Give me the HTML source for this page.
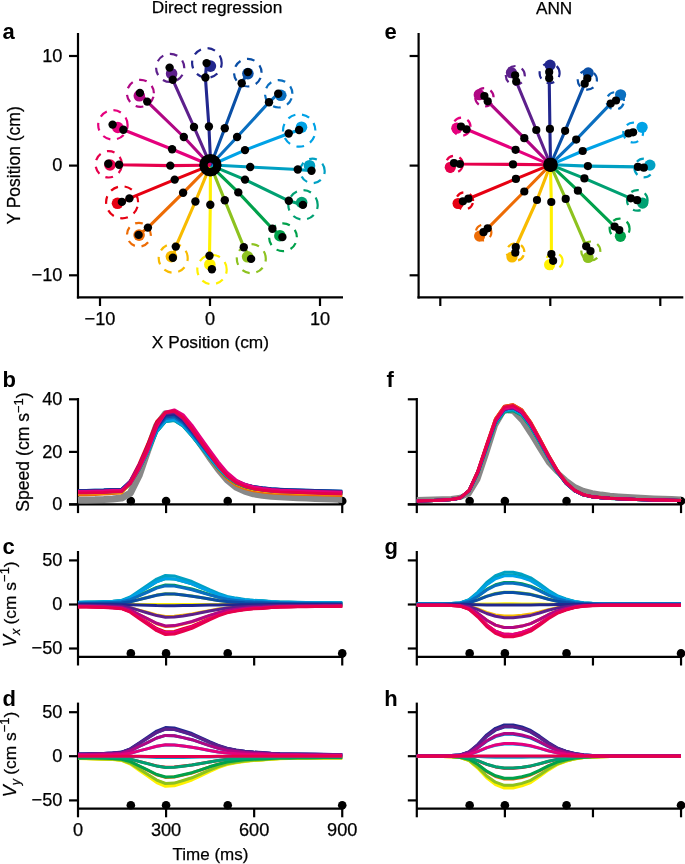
<!DOCTYPE html>
<html><head><meta charset="utf-8"><style>
html,body{margin:0;padding:0;background:#fff;}
svg{display:block;will-change:transform;}
text{font-family:"Liberation Sans",sans-serif;fill:#000;}
</style></head><body>
<svg width="685" height="864" viewBox="0 0 685 864">
<rect width="685" height="864" fill="#fff"/>
<text x="217.00" y="12.80" font-size="17.3" text-anchor="middle" stroke="#000" stroke-width="0.25">Direct regression</text>
<text x="554.10" y="13.80" font-size="17.2" text-anchor="middle" stroke="#000" stroke-width="0.25">ANN</text>
<text x="2.50" y="39.00" font-size="22" font-weight="bold" text-anchor="start">a</text>
<text x="384.40" y="39.00" font-size="22" font-weight="bold" text-anchor="start">e</text>
<text x="2.40" y="386.60" font-size="22" font-weight="bold" text-anchor="start">b</text>
<text x="386.60" y="386.60" font-size="22" font-weight="bold" text-anchor="start">f</text>
<text x="2.50" y="553.70" font-size="22" font-weight="bold" text-anchor="start">c</text>
<text x="384.40" y="553.70" font-size="22" font-weight="bold" text-anchor="start">g</text>
<text x="2.50" y="705.80" font-size="22" font-weight="bold" text-anchor="start">d</text>
<text x="384.20" y="705.80" font-size="22" font-weight="bold" text-anchor="start">h</text>
<line x1="78.00" y1="33.00" x2="78.00" y2="298.40" stroke="#000" stroke-width="2.2" stroke-linecap="butt"/>
<line x1="76.90" y1="297.30" x2="343.00" y2="297.30" stroke="#000" stroke-width="2.2" stroke-linecap="butt"/>
<line x1="69.00" y1="56.00" x2="78.00" y2="56.00" stroke="#000" stroke-width="2.2" stroke-linecap="butt"/>
<text x="62.40" y="61.80" font-size="18.2" text-anchor="end" stroke="#000" stroke-width="0.25">10</text>
<line x1="69.00" y1="165.60" x2="78.00" y2="165.60" stroke="#000" stroke-width="2.2" stroke-linecap="butt"/>
<text x="62.40" y="171.40" font-size="18.2" text-anchor="end" stroke="#000" stroke-width="0.25">0</text>
<line x1="69.00" y1="275.30" x2="78.00" y2="275.30" stroke="#000" stroke-width="2.2" stroke-linecap="butt"/>
<text x="62.40" y="281.10" font-size="18.2" text-anchor="end" stroke="#000" stroke-width="0.25">−10</text>
<line x1="100.00" y1="297.30" x2="100.00" y2="306.00" stroke="#000" stroke-width="2.2" stroke-linecap="butt"/>
<text x="100.00" y="325.20" font-size="18.2" text-anchor="middle" stroke="#000" stroke-width="0.25">−10</text>
<line x1="210.00" y1="297.30" x2="210.00" y2="306.00" stroke="#000" stroke-width="2.2" stroke-linecap="butt"/>
<text x="210.00" y="325.20" font-size="18.2" text-anchor="middle" stroke="#000" stroke-width="0.25">0</text>
<line x1="320.00" y1="297.30" x2="320.00" y2="306.00" stroke="#000" stroke-width="2.2" stroke-linecap="butt"/>
<text x="320.00" y="325.20" font-size="18.2" text-anchor="middle" stroke="#000" stroke-width="0.25">10</text>
<line x1="418.60" y1="33.00" x2="418.60" y2="298.40" stroke="#000" stroke-width="2.2" stroke-linecap="butt"/>
<line x1="417.50" y1="297.30" x2="683.30" y2="297.30" stroke="#000" stroke-width="2.2" stroke-linecap="butt"/>
<line x1="409.60" y1="56.00" x2="418.60" y2="56.00" stroke="#000" stroke-width="2.2" stroke-linecap="butt"/>
<line x1="409.60" y1="165.60" x2="418.60" y2="165.60" stroke="#000" stroke-width="2.2" stroke-linecap="butt"/>
<line x1="409.60" y1="275.30" x2="418.60" y2="275.30" stroke="#000" stroke-width="2.2" stroke-linecap="butt"/>
<line x1="440.30" y1="297.30" x2="440.30" y2="306.00" stroke="#000" stroke-width="2.2" stroke-linecap="butt"/>
<line x1="550.30" y1="297.30" x2="550.30" y2="306.00" stroke="#000" stroke-width="2.2" stroke-linecap="butt"/>
<line x1="660.30" y1="297.30" x2="660.30" y2="306.00" stroke="#000" stroke-width="2.2" stroke-linecap="butt"/>
<text x="210.40" y="347.80" font-size="17.3" text-anchor="middle" stroke="#000" stroke-width="0.25">X Position (cm)</text>
<text transform="translate(19.50,165.40) rotate(-90)" text-anchor="middle" stroke="#000" stroke-width="0.25"><tspan font-size="17.5">Y Position (cm)</tspan></text>
<polyline points="210.4,165.2 203.9,167.9 174.7,179.6 129.4,198.4 121.9,201.9" fill="none" stroke="#e60012" stroke-width="3.1" stroke-linejoin="round"/>
<polyline points="210.4,165.2 205.5,170.1 183.1,192.8 147.9,227.6 138.6,234.9" fill="none" stroke="#ed6c05" stroke-width="3.1" stroke-linejoin="round"/>
<polyline points="210.4,165.2 207.7,171.7 195.4,201.5 175.8,246.6 172.9,257.7" fill="none" stroke="#f8bb00" stroke-width="3.1" stroke-linejoin="round"/>
<polyline points="210.4,165.2 210.4,172.2 210.3,204.8 209.5,255.8 211.9,269.2" fill="none" stroke="#fff100" stroke-width="3.1" stroke-linejoin="round"/>
<polyline points="210.4,165.2 213.1,171.7 224.8,200.3 243.8,247.2 251.1,258.9" fill="none" stroke="#8dc21f" stroke-width="3.1" stroke-linejoin="round"/>
<polyline points="210.4,165.2 215.3,170.1 238.3,192.4 272.4,228.7 282.4,237.1" fill="none" stroke="#00a14b" stroke-width="3.1" stroke-linejoin="round"/>
<polyline points="210.4,165.2 216.9,167.9 245.0,179.6 288.8,200.8 302.9,204.9" fill="none" stroke="#00a072" stroke-width="3.1" stroke-linejoin="round"/>
<polyline points="210.4,165.2 217.4,165.2 250.2,167.0 297.8,169.5 311.5,170.7" fill="none" stroke="#00a0c3" stroke-width="3.1" stroke-linejoin="round"/>
<polyline points="210.4,165.2 216.9,162.5 245.0,150.1 288.7,133.5 299.1,130.0" fill="none" stroke="#00a2e6" stroke-width="3.1" stroke-linejoin="round"/>
<polyline points="210.4,165.2 215.3,160.3 237.1,137.0 269.0,102.3 278.2,93.7" fill="none" stroke="#0a6fc0" stroke-width="3.1" stroke-linejoin="round"/>
<polyline points="210.4,165.2 213.1,158.7 224.8,128.2 241.7,83.2 247.9,72.1" fill="none" stroke="#0a4fa6" stroke-width="3.1" stroke-linejoin="round"/>
<polyline points="210.4,165.2 210.4,158.2 208.9,126.5 205.4,77.5 206.6,63.1" fill="none" stroke="#22278e" stroke-width="3.1" stroke-linejoin="round"/>
<polyline points="210.4,165.2 207.7,158.7 194.0,127.0 172.8,79.8 169.6,67.6" fill="none" stroke="#5d208c" stroke-width="3.1" stroke-linejoin="round"/>
<polyline points="210.4,165.2 205.5,160.3 183.8,137.0 147.2,101.6 139.9,92.9" fill="none" stroke="#b00784" stroke-width="3.1" stroke-linejoin="round"/>
<polyline points="210.4,165.2 203.9,162.5 172.1,149.2 123.4,129.8 112.6,124.6" fill="none" stroke="#e5007d" stroke-width="3.1" stroke-linejoin="round"/>
<polyline points="210.4,165.2 203.4,165.2 170.3,165.6 119.1,164.7 108.3,163.8" fill="none" stroke="#e6004c" stroke-width="3.1" stroke-linejoin="round"/>
<circle transform="translate(122.1,202.3) scale(1,-1)" r="16.0" fill="none" stroke="#e60012" stroke-width="2.2" stroke-dasharray="7.8 6.8"/>
<circle cx="117.50" cy="203.30" r="5.8" fill="#e60012" />
<circle transform="translate(138.9,234.7) scale(1,-1)" r="11.9" fill="none" stroke="#ed6c05" stroke-width="2.2" stroke-dasharray="7.8 6.8"/>
<circle cx="139.10" cy="235.10" r="5.8" fill="#ed6c05" />
<circle transform="translate(173.2,258.2) scale(1,-1)" r="14.5" fill="none" stroke="#f8bb00" stroke-width="2.2" stroke-dasharray="7.8 6.8"/>
<circle cx="171.40" cy="256.60" r="5.8" fill="#f8bb00" />
<circle transform="translate(212.0,269.5) scale(1,-1)" r="14.7" fill="none" stroke="#fff100" stroke-width="2.2" stroke-dasharray="7.8 6.8"/>
<circle cx="209.80" cy="264.50" r="5.8" fill="#fff100" />
<circle transform="translate(251.3,258.7) scale(1,-1)" r="14.5" fill="none" stroke="#8dc21f" stroke-width="2.2" stroke-dasharray="7.8 6.8"/>
<circle cx="247.60" cy="256.80" r="5.8" fill="#8dc21f" />
<circle transform="translate(283.0,237.3) scale(1,-1)" r="13.9" fill="none" stroke="#00a14b" stroke-width="2.2" stroke-dasharray="7.8 6.8"/>
<circle cx="279.90" cy="235.70" r="5.8" fill="#00a14b" />
<circle transform="translate(303.0,204.9) scale(1,-1)" r="14.7" fill="none" stroke="#00a072" stroke-width="2.2" stroke-dasharray="7.8 6.8"/>
<circle cx="301.70" cy="202.50" r="5.8" fill="#00a072" />
<circle transform="translate(312.5,170.9) scale(1,-1)" r="12.2" fill="none" stroke="#00a0c3" stroke-width="2.2" stroke-dasharray="7.8 6.8"/>
<circle cx="309.50" cy="165.70" r="5.8" fill="#00a0c3" />
<circle transform="translate(299.2,130.5) scale(1,-1)" r="16.2" fill="none" stroke="#00a2e6" stroke-width="2.2" stroke-dasharray="7.8 6.8"/>
<circle cx="301.50" cy="127.20" r="5.8" fill="#00a2e6" />
<circle transform="translate(278.7,93.8) scale(1,-1)" r="13.7" fill="none" stroke="#0a6fc0" stroke-width="2.2" stroke-dasharray="7.8 6.8"/>
<circle cx="280.80" cy="95.30" r="5.8" fill="#0a6fc0" />
<circle transform="translate(247.8,72.7) scale(1,-1)" r="13.8" fill="none" stroke="#0a4fa6" stroke-width="2.2" stroke-dasharray="7.8 6.8"/>
<circle cx="247.90" cy="73.60" r="5.8" fill="#0a4fa6" />
<circle transform="translate(206.9,63.0) scale(1,-1)" r="14.8" fill="none" stroke="#22278e" stroke-width="2.2" stroke-dasharray="7.8 6.8"/>
<circle cx="210.40" cy="66.10" r="5.8" fill="#22278e" />
<circle transform="translate(170.2,67.9) scale(1,-1)" r="14.1" fill="none" stroke="#5d208c" stroke-width="2.2" stroke-dasharray="7.8 6.8"/>
<circle cx="171.60" cy="73.70" r="5.8" fill="#5d208c" />
<circle transform="translate(140.4,93.3) scale(1,-1)" r="13.5" fill="none" stroke="#b00784" stroke-width="2.2" stroke-dasharray="7.8 6.8"/>
<circle cx="139.30" cy="95.80" r="5.8" fill="#b00784" />
<circle transform="translate(112.9,124.9) scale(1,-1)" r="14.7" fill="none" stroke="#e5007d" stroke-width="2.2" stroke-dasharray="7.8 6.8"/>
<circle cx="117.80" cy="127.50" r="5.8" fill="#e5007d" />
<circle transform="translate(108.7,164.3) scale(1,-1)" r="13.2" fill="none" stroke="#e6004c" stroke-width="2.2" stroke-dasharray="7.8 6.8"/>
<circle cx="110.00" cy="165.00" r="5.8" fill="#e6004c" />
<circle cx="203.93" cy="167.88" r="4.2" fill="#000" />
<circle cx="174.70" cy="179.60" r="4.2" fill="#000" />
<circle cx="129.40" cy="198.40" r="4.2" fill="#000" />
<circle cx="121.90" cy="201.90" r="4.2" fill="#000" />
<circle cx="205.45" cy="170.15" r="4.2" fill="#000" />
<circle cx="183.10" cy="192.80" r="4.2" fill="#000" />
<circle cx="147.90" cy="227.60" r="4.2" fill="#000" />
<circle cx="138.60" cy="234.90" r="4.2" fill="#000" />
<circle cx="207.72" cy="171.67" r="4.2" fill="#000" />
<circle cx="195.40" cy="201.50" r="4.2" fill="#000" />
<circle cx="175.80" cy="246.60" r="4.2" fill="#000" />
<circle cx="172.90" cy="257.70" r="4.2" fill="#000" />
<circle cx="210.40" cy="172.20" r="4.2" fill="#000" />
<circle cx="210.30" cy="204.80" r="4.2" fill="#000" />
<circle cx="209.50" cy="255.80" r="4.2" fill="#000" />
<circle cx="211.90" cy="269.20" r="4.2" fill="#000" />
<circle cx="213.08" cy="171.67" r="4.2" fill="#000" />
<circle cx="224.80" cy="200.30" r="4.2" fill="#000" />
<circle cx="243.80" cy="247.20" r="4.2" fill="#000" />
<circle cx="251.10" cy="258.90" r="4.2" fill="#000" />
<circle cx="215.35" cy="170.15" r="4.2" fill="#000" />
<circle cx="238.30" cy="192.40" r="4.2" fill="#000" />
<circle cx="272.40" cy="228.70" r="4.2" fill="#000" />
<circle cx="282.40" cy="237.10" r="4.2" fill="#000" />
<circle cx="216.87" cy="167.88" r="4.2" fill="#000" />
<circle cx="245.00" cy="179.60" r="4.2" fill="#000" />
<circle cx="288.80" cy="200.80" r="4.2" fill="#000" />
<circle cx="302.90" cy="204.90" r="4.2" fill="#000" />
<circle cx="217.40" cy="165.20" r="4.2" fill="#000" />
<circle cx="250.20" cy="167.00" r="4.2" fill="#000" />
<circle cx="297.80" cy="169.50" r="4.2" fill="#000" />
<circle cx="311.50" cy="170.70" r="4.2" fill="#000" />
<circle cx="216.87" cy="162.52" r="4.2" fill="#000" />
<circle cx="245.00" cy="150.10" r="4.2" fill="#000" />
<circle cx="288.70" cy="133.50" r="4.2" fill="#000" />
<circle cx="299.10" cy="130.00" r="4.2" fill="#000" />
<circle cx="215.35" cy="160.25" r="4.2" fill="#000" />
<circle cx="237.10" cy="137.00" r="4.2" fill="#000" />
<circle cx="269.00" cy="102.30" r="4.2" fill="#000" />
<circle cx="278.20" cy="93.70" r="4.2" fill="#000" />
<circle cx="213.08" cy="158.73" r="4.2" fill="#000" />
<circle cx="224.80" cy="128.20" r="4.2" fill="#000" />
<circle cx="241.70" cy="83.20" r="4.2" fill="#000" />
<circle cx="247.90" cy="72.10" r="4.2" fill="#000" />
<circle cx="210.40" cy="158.20" r="4.2" fill="#000" />
<circle cx="208.90" cy="126.50" r="4.2" fill="#000" />
<circle cx="205.40" cy="77.50" r="4.2" fill="#000" />
<circle cx="206.60" cy="63.10" r="4.2" fill="#000" />
<circle cx="207.72" cy="158.73" r="4.2" fill="#000" />
<circle cx="194.00" cy="127.00" r="4.2" fill="#000" />
<circle cx="172.80" cy="79.80" r="4.2" fill="#000" />
<circle cx="169.60" cy="67.60" r="4.2" fill="#000" />
<circle cx="205.45" cy="160.25" r="4.2" fill="#000" />
<circle cx="183.80" cy="137.00" r="4.2" fill="#000" />
<circle cx="147.20" cy="101.60" r="4.2" fill="#000" />
<circle cx="139.90" cy="92.90" r="4.2" fill="#000" />
<circle cx="203.93" cy="162.52" r="4.2" fill="#000" />
<circle cx="172.10" cy="149.20" r="4.2" fill="#000" />
<circle cx="123.40" cy="129.80" r="4.2" fill="#000" />
<circle cx="112.60" cy="124.60" r="4.2" fill="#000" />
<circle cx="203.40" cy="165.20" r="4.2" fill="#000" />
<circle cx="170.30" cy="165.60" r="4.2" fill="#000" />
<circle cx="119.10" cy="164.70" r="4.2" fill="#000" />
<circle cx="108.30" cy="163.80" r="4.2" fill="#000" />
<polyline points="550.5,164.8 547.7,165.9 515.9,178.9 468.4,198.7 462.9,201.3" fill="none" stroke="#e60012" stroke-width="3.1" stroke-linejoin="round"/>
<polyline points="550.5,164.8 548.4,166.9 524.3,191.5 487.7,228.3 483.5,232.2" fill="none" stroke="#ed6c05" stroke-width="3.1" stroke-linejoin="round"/>
<polyline points="550.5,164.8 549.4,167.6 537.0,200.0 515.8,247.0 515.3,252.6" fill="none" stroke="#f8bb00" stroke-width="3.1" stroke-linejoin="round"/>
<polyline points="550.5,164.8 550.5,167.8 551.3,202.0 551.4,254.2 553.1,260.8" fill="none" stroke="#fff100" stroke-width="3.1" stroke-linejoin="round"/>
<polyline points="550.5,164.8 551.6,167.6 565.7,198.9 586.2,246.3 590.5,251.1" fill="none" stroke="#8dc21f" stroke-width="3.1" stroke-linejoin="round"/>
<polyline points="550.5,164.8 552.6,166.9 577.9,190.7 614.6,226.6 619.3,230.1" fill="none" stroke="#00a14b" stroke-width="3.1" stroke-linejoin="round"/>
<polyline points="550.5,164.8 553.3,165.9 584.4,178.4 630.8,198.3 637.1,200.2" fill="none" stroke="#00a072" stroke-width="3.1" stroke-linejoin="round"/>
<polyline points="550.5,164.8 553.5,164.8 587.9,166.1 637.9,166.9 643.8,167.7" fill="none" stroke="#00a0c3" stroke-width="3.1" stroke-linejoin="round"/>
<polyline points="550.5,164.8 553.3,163.7 582.7,151.0 628.5,133.4 633.1,132.3" fill="none" stroke="#00a2e6" stroke-width="3.1" stroke-linejoin="round"/>
<polyline points="550.5,164.8 552.6,162.7 576.2,139.6 610.7,103.6 616.0,100.5" fill="none" stroke="#0a6fc0" stroke-width="3.1" stroke-linejoin="round"/>
<polyline points="550.5,164.8 551.6,162.0 565.1,130.8 584.7,83.7 587.3,78.4" fill="none" stroke="#0a4fa6" stroke-width="3.1" stroke-linejoin="round"/>
<polyline points="550.5,164.8 550.5,161.8 549.9,128.9 549.2,78.2 549.2,72.1" fill="none" stroke="#22278e" stroke-width="3.1" stroke-linejoin="round"/>
<polyline points="550.5,164.8 549.4,162.0 536.3,130.0 516.2,81.5 515.1,75.3" fill="none" stroke="#5d208c" stroke-width="3.1" stroke-linejoin="round"/>
<polyline points="550.5,164.8 548.4,162.7 524.3,138.2 487.7,101.3 484.4,96.0" fill="none" stroke="#b00784" stroke-width="3.1" stroke-linejoin="round"/>
<polyline points="550.5,164.8 547.7,163.7 515.6,149.8 466.5,129.3 461.0,126.5" fill="none" stroke="#e5007d" stroke-width="3.1" stroke-linejoin="round"/>
<polyline points="550.5,164.8 547.5,164.8 513.0,164.4 459.9,164.0 454.0,163.1" fill="none" stroke="#e6004c" stroke-width="3.1" stroke-linejoin="round"/>
<circle transform="translate(464.5,200.9) scale(1,-1)" r="8.6" fill="none" stroke="#e60012" stroke-width="2.2" stroke-dasharray="7.8 6.8"/>
<circle cx="458.10" cy="203.50" r="5.6" fill="#e60012" />
<circle transform="translate(483.6,232.5) scale(1,-1)" r="7.8" fill="none" stroke="#ed6c05" stroke-width="2.2" stroke-dasharray="7.8 6.8"/>
<circle cx="479.60" cy="236.10" r="5.6" fill="#ed6c05" />
<circle transform="translate(515.5,252.0) scale(1,-1)" r="8.8" fill="none" stroke="#f8bb00" stroke-width="2.2" stroke-dasharray="7.8 6.8"/>
<circle cx="512.00" cy="257.00" r="5.6" fill="#f8bb00" />
<circle transform="translate(554.4,261.0) scale(1,-1)" r="8.2" fill="none" stroke="#fff100" stroke-width="2.2" stroke-dasharray="7.8 6.8"/>
<circle cx="549.60" cy="264.70" r="5.6" fill="#fff100" />
<circle transform="translate(590.8,251.0) scale(1,-1)" r="9.5" fill="none" stroke="#8dc21f" stroke-width="2.2" stroke-dasharray="7.8 6.8"/>
<circle cx="588.10" cy="257.50" r="5.6" fill="#8dc21f" />
<circle transform="translate(619.6,228.7) scale(1,-1)" r="10.0" fill="none" stroke="#00a14b" stroke-width="2.2" stroke-dasharray="7.8 6.8"/>
<circle cx="620.40" cy="236.30" r="5.6" fill="#00a14b" />
<circle transform="translate(637.3,200.4) scale(1,-1)" r="10.3" fill="none" stroke="#00a072" stroke-width="2.2" stroke-dasharray="7.8 6.8"/>
<circle cx="642.60" cy="203.10" r="5.6" fill="#00a072" />
<circle transform="translate(643.8,168.0) scale(1,-1)" r="9.4" fill="none" stroke="#00a0c3" stroke-width="2.2" stroke-dasharray="7.8 6.8"/>
<circle cx="649.90" cy="165.10" r="5.6" fill="#00a0c3" />
<circle transform="translate(633.2,132.6) scale(1,-1)" r="9.9" fill="none" stroke="#00a2e6" stroke-width="2.2" stroke-dasharray="7.8 6.8"/>
<circle cx="642.10" cy="127.30" r="5.6" fill="#00a2e6" />
<circle transform="translate(615.2,100.9) scale(1,-1)" r="8.7" fill="none" stroke="#0a6fc0" stroke-width="2.2" stroke-dasharray="7.8 6.8"/>
<circle cx="620.60" cy="94.80" r="5.6" fill="#0a6fc0" />
<circle transform="translate(587.3,80.0) scale(1,-1)" r="9.6" fill="none" stroke="#0a4fa6" stroke-width="2.2" stroke-dasharray="7.8 6.8"/>
<circle cx="588.20" cy="72.90" r="5.6" fill="#0a4fa6" />
<circle transform="translate(549.6,73.2) scale(1,-1)" r="10.0" fill="none" stroke="#22278e" stroke-width="2.2" stroke-dasharray="7.8 6.8"/>
<circle cx="550.10" cy="65.10" r="5.6" fill="#22278e" />
<circle transform="translate(515.3,75.5) scale(1,-1)" r="9.5" fill="none" stroke="#5d208c" stroke-width="2.2" stroke-dasharray="7.8 6.8"/>
<circle cx="511.40" cy="72.70" r="5.6" fill="#5d208c" />
<circle transform="translate(484.4,97.3) scale(1,-1)" r="9.2" fill="none" stroke="#b00784" stroke-width="2.2" stroke-dasharray="7.8 6.8"/>
<circle cx="479.20" cy="94.70" r="5.6" fill="#b00784" />
<circle transform="translate(461.6,126.7) scale(1,-1)" r="9.0" fill="none" stroke="#e5007d" stroke-width="2.2" stroke-dasharray="7.8 6.8"/>
<circle cx="456.80" cy="128.20" r="5.6" fill="#e5007d" />
<circle transform="translate(454.3,164.2) scale(1,-1)" r="8.5" fill="none" stroke="#e6004c" stroke-width="2.2" stroke-dasharray="7.8 6.8"/>
<circle cx="450.30" cy="167.30" r="5.6" fill="#e6004c" />
<circle cx="547.73" cy="165.95" r="4.1" fill="#000" />
<circle cx="515.90" cy="178.90" r="4.1" fill="#000" />
<circle cx="468.40" cy="198.70" r="4.1" fill="#000" />
<circle cx="462.90" cy="201.30" r="4.1" fill="#000" />
<circle cx="548.38" cy="166.92" r="4.1" fill="#000" />
<circle cx="524.30" cy="191.50" r="4.1" fill="#000" />
<circle cx="487.70" cy="228.30" r="4.1" fill="#000" />
<circle cx="483.50" cy="232.20" r="4.1" fill="#000" />
<circle cx="549.35" cy="167.57" r="4.1" fill="#000" />
<circle cx="537.00" cy="200.00" r="4.1" fill="#000" />
<circle cx="515.80" cy="247.00" r="4.1" fill="#000" />
<circle cx="515.30" cy="252.60" r="4.1" fill="#000" />
<circle cx="550.50" cy="167.80" r="4.1" fill="#000" />
<circle cx="551.30" cy="202.00" r="4.1" fill="#000" />
<circle cx="551.40" cy="254.20" r="4.1" fill="#000" />
<circle cx="553.10" cy="260.80" r="4.1" fill="#000" />
<circle cx="551.65" cy="167.57" r="4.1" fill="#000" />
<circle cx="565.70" cy="198.90" r="4.1" fill="#000" />
<circle cx="586.20" cy="246.30" r="4.1" fill="#000" />
<circle cx="590.50" cy="251.10" r="4.1" fill="#000" />
<circle cx="552.62" cy="166.92" r="4.1" fill="#000" />
<circle cx="577.90" cy="190.70" r="4.1" fill="#000" />
<circle cx="614.60" cy="226.60" r="4.1" fill="#000" />
<circle cx="619.30" cy="230.10" r="4.1" fill="#000" />
<circle cx="553.27" cy="165.95" r="4.1" fill="#000" />
<circle cx="584.40" cy="178.40" r="4.1" fill="#000" />
<circle cx="630.80" cy="198.30" r="4.1" fill="#000" />
<circle cx="637.10" cy="200.20" r="4.1" fill="#000" />
<circle cx="553.50" cy="164.80" r="4.1" fill="#000" />
<circle cx="587.90" cy="166.10" r="4.1" fill="#000" />
<circle cx="637.90" cy="166.90" r="4.1" fill="#000" />
<circle cx="643.80" cy="167.70" r="4.1" fill="#000" />
<circle cx="553.27" cy="163.65" r="4.1" fill="#000" />
<circle cx="582.70" cy="151.00" r="4.1" fill="#000" />
<circle cx="628.50" cy="133.40" r="4.1" fill="#000" />
<circle cx="633.10" cy="132.30" r="4.1" fill="#000" />
<circle cx="552.62" cy="162.68" r="4.1" fill="#000" />
<circle cx="576.20" cy="139.60" r="4.1" fill="#000" />
<circle cx="610.70" cy="103.60" r="4.1" fill="#000" />
<circle cx="616.00" cy="100.50" r="4.1" fill="#000" />
<circle cx="551.65" cy="162.03" r="4.1" fill="#000" />
<circle cx="565.10" cy="130.80" r="4.1" fill="#000" />
<circle cx="584.70" cy="83.70" r="4.1" fill="#000" />
<circle cx="587.30" cy="78.40" r="4.1" fill="#000" />
<circle cx="550.50" cy="161.80" r="4.1" fill="#000" />
<circle cx="549.90" cy="128.90" r="4.1" fill="#000" />
<circle cx="549.20" cy="78.20" r="4.1" fill="#000" />
<circle cx="549.20" cy="72.10" r="4.1" fill="#000" />
<circle cx="549.35" cy="162.03" r="4.1" fill="#000" />
<circle cx="536.30" cy="130.00" r="4.1" fill="#000" />
<circle cx="516.20" cy="81.50" r="4.1" fill="#000" />
<circle cx="515.10" cy="75.30" r="4.1" fill="#000" />
<circle cx="548.38" cy="162.68" r="4.1" fill="#000" />
<circle cx="524.30" cy="138.20" r="4.1" fill="#000" />
<circle cx="487.70" cy="101.30" r="4.1" fill="#000" />
<circle cx="484.40" cy="96.00" r="4.1" fill="#000" />
<circle cx="547.73" cy="163.65" r="4.1" fill="#000" />
<circle cx="515.60" cy="149.80" r="4.1" fill="#000" />
<circle cx="466.50" cy="129.30" r="4.1" fill="#000" />
<circle cx="461.00" cy="126.50" r="4.1" fill="#000" />
<circle cx="547.50" cy="164.80" r="4.1" fill="#000" />
<circle cx="513.00" cy="164.40" r="4.1" fill="#000" />
<circle cx="459.90" cy="164.00" r="4.1" fill="#000" />
<circle cx="454.00" cy="163.10" r="4.1" fill="#000" />
<line x1="78.00" y1="398.00" x2="78.00" y2="513.10" stroke="#000" stroke-width="2.2" stroke-linecap="butt"/>
<line x1="69.00" y1="504.40" x2="343.34" y2="504.40" stroke="#000" stroke-width="2.2" stroke-linecap="butt"/>
<line x1="69.00" y1="399.30" x2="78.00" y2="399.30" stroke="#000" stroke-width="2.2" stroke-linecap="butt"/>
<text x="62.40" y="405.10" font-size="18.2" text-anchor="end" stroke="#000" stroke-width="0.25">40</text>
<line x1="69.00" y1="451.90" x2="78.00" y2="451.90" stroke="#000" stroke-width="2.2" stroke-linecap="butt"/>
<text x="62.40" y="457.70" font-size="18.2" text-anchor="end" stroke="#000" stroke-width="0.25">20</text>
<line x1="69.00" y1="504.40" x2="78.00" y2="504.40" stroke="#000" stroke-width="2.2" stroke-linecap="butt"/>
<text x="62.40" y="510.20" font-size="18.2" text-anchor="end" stroke="#000" stroke-width="0.25">0</text>
<line x1="166.08" y1="504.40" x2="166.08" y2="513.10" stroke="#000" stroke-width="2.2" stroke-linecap="butt"/>
<line x1="254.16" y1="504.40" x2="254.16" y2="513.10" stroke="#000" stroke-width="2.2" stroke-linecap="butt"/>
<line x1="342.24" y1="504.40" x2="342.24" y2="513.10" stroke="#000" stroke-width="2.2" stroke-linecap="butt"/>
<circle cx="130.85" cy="501.00" r="4.3" fill="#000" />
<circle cx="166.08" cy="501.00" r="4.3" fill="#000" />
<circle cx="227.74" cy="501.00" r="4.3" fill="#000" />
<circle cx="342.24" cy="501.00" r="4.3" fill="#000" />
<line x1="416.80" y1="398.00" x2="416.80" y2="513.10" stroke="#000" stroke-width="2.2" stroke-linecap="butt"/>
<line x1="407.80" y1="504.40" x2="682.14" y2="504.40" stroke="#000" stroke-width="2.2" stroke-linecap="butt"/>
<line x1="407.80" y1="399.30" x2="416.80" y2="399.30" stroke="#000" stroke-width="2.2" stroke-linecap="butt"/>
<line x1="407.80" y1="451.90" x2="416.80" y2="451.90" stroke="#000" stroke-width="2.2" stroke-linecap="butt"/>
<line x1="407.80" y1="504.40" x2="416.80" y2="504.40" stroke="#000" stroke-width="2.2" stroke-linecap="butt"/>
<line x1="504.88" y1="504.40" x2="504.88" y2="513.10" stroke="#000" stroke-width="2.2" stroke-linecap="butt"/>
<line x1="592.96" y1="504.40" x2="592.96" y2="513.10" stroke="#000" stroke-width="2.2" stroke-linecap="butt"/>
<line x1="681.04" y1="504.40" x2="681.04" y2="513.10" stroke="#000" stroke-width="2.2" stroke-linecap="butt"/>
<circle cx="469.65" cy="501.00" r="4.3" fill="#000" />
<circle cx="504.88" cy="501.00" r="4.3" fill="#000" />
<circle cx="566.54" cy="501.00" r="4.3" fill="#000" />
<circle cx="681.04" cy="501.00" r="4.3" fill="#000" />
<line x1="78.00" y1="551.00" x2="78.00" y2="665.50" stroke="#000" stroke-width="2.2" stroke-linecap="butt"/>
<line x1="78.00" y1="656.80" x2="343.34" y2="656.80" stroke="#000" stroke-width="2.2" stroke-linecap="butt"/>
<line x1="69.00" y1="560.40" x2="78.00" y2="560.40" stroke="#000" stroke-width="2.2" stroke-linecap="butt"/>
<text x="62.40" y="566.20" font-size="18.2" text-anchor="end" stroke="#000" stroke-width="0.25">50</text>
<line x1="69.00" y1="604.50" x2="78.00" y2="604.50" stroke="#000" stroke-width="2.2" stroke-linecap="butt"/>
<text x="62.40" y="610.30" font-size="18.2" text-anchor="end" stroke="#000" stroke-width="0.25">0</text>
<line x1="69.00" y1="648.50" x2="78.00" y2="648.50" stroke="#000" stroke-width="2.2" stroke-linecap="butt"/>
<text x="62.40" y="654.30" font-size="18.2" text-anchor="end" stroke="#000" stroke-width="0.25">−50</text>
<line x1="166.08" y1="656.80" x2="166.08" y2="665.50" stroke="#000" stroke-width="2.2" stroke-linecap="butt"/>
<line x1="254.16" y1="656.80" x2="254.16" y2="665.50" stroke="#000" stroke-width="2.2" stroke-linecap="butt"/>
<line x1="342.24" y1="656.80" x2="342.24" y2="665.50" stroke="#000" stroke-width="2.2" stroke-linecap="butt"/>
<circle cx="130.85" cy="653.40" r="4.3" fill="#000" />
<circle cx="166.08" cy="653.40" r="4.3" fill="#000" />
<circle cx="227.74" cy="653.40" r="4.3" fill="#000" />
<circle cx="342.24" cy="653.40" r="4.3" fill="#000" />
<line x1="416.80" y1="551.00" x2="416.80" y2="665.50" stroke="#000" stroke-width="2.2" stroke-linecap="butt"/>
<line x1="416.80" y1="656.80" x2="682.14" y2="656.80" stroke="#000" stroke-width="2.2" stroke-linecap="butt"/>
<line x1="407.80" y1="560.40" x2="416.80" y2="560.40" stroke="#000" stroke-width="2.2" stroke-linecap="butt"/>
<line x1="407.80" y1="604.50" x2="416.80" y2="604.50" stroke="#000" stroke-width="2.2" stroke-linecap="butt"/>
<line x1="407.80" y1="648.50" x2="416.80" y2="648.50" stroke="#000" stroke-width="2.2" stroke-linecap="butt"/>
<line x1="504.88" y1="656.80" x2="504.88" y2="665.50" stroke="#000" stroke-width="2.2" stroke-linecap="butt"/>
<line x1="592.96" y1="656.80" x2="592.96" y2="665.50" stroke="#000" stroke-width="2.2" stroke-linecap="butt"/>
<line x1="681.04" y1="656.80" x2="681.04" y2="665.50" stroke="#000" stroke-width="2.2" stroke-linecap="butt"/>
<circle cx="469.65" cy="653.40" r="4.3" fill="#000" />
<circle cx="504.88" cy="653.40" r="4.3" fill="#000" />
<circle cx="566.54" cy="653.40" r="4.3" fill="#000" />
<circle cx="681.04" cy="653.40" r="4.3" fill="#000" />
<line x1="78.00" y1="702.60" x2="78.00" y2="817.30" stroke="#000" stroke-width="2.2" stroke-linecap="butt"/>
<line x1="78.00" y1="808.60" x2="343.34" y2="808.60" stroke="#000" stroke-width="2.2" stroke-linecap="butt"/>
<line x1="69.00" y1="712.20" x2="78.00" y2="712.20" stroke="#000" stroke-width="2.2" stroke-linecap="butt"/>
<text x="62.40" y="718.00" font-size="18.2" text-anchor="end" stroke="#000" stroke-width="0.25">50</text>
<line x1="69.00" y1="756.20" x2="78.00" y2="756.20" stroke="#000" stroke-width="2.2" stroke-linecap="butt"/>
<text x="62.40" y="762.00" font-size="18.2" text-anchor="end" stroke="#000" stroke-width="0.25">0</text>
<line x1="69.00" y1="800.40" x2="78.00" y2="800.40" stroke="#000" stroke-width="2.2" stroke-linecap="butt"/>
<text x="62.40" y="806.20" font-size="18.2" text-anchor="end" stroke="#000" stroke-width="0.25">−50</text>
<line x1="166.08" y1="808.60" x2="166.08" y2="817.30" stroke="#000" stroke-width="2.2" stroke-linecap="butt"/>
<line x1="254.16" y1="808.60" x2="254.16" y2="817.30" stroke="#000" stroke-width="2.2" stroke-linecap="butt"/>
<line x1="342.24" y1="808.60" x2="342.24" y2="817.30" stroke="#000" stroke-width="2.2" stroke-linecap="butt"/>
<text x="78.00" y="836.00" font-size="18.2" text-anchor="middle" stroke="#000" stroke-width="0.25">0</text>
<text x="166.08" y="836.00" font-size="18.2" text-anchor="middle" stroke="#000" stroke-width="0.25">300</text>
<text x="254.16" y="836.00" font-size="18.2" text-anchor="middle" stroke="#000" stroke-width="0.25">600</text>
<text x="342.24" y="836.00" font-size="18.2" text-anchor="middle" stroke="#000" stroke-width="0.25">900</text>
<circle cx="130.85" cy="805.20" r="4.3" fill="#000" />
<circle cx="166.08" cy="805.20" r="4.3" fill="#000" />
<circle cx="227.74" cy="805.20" r="4.3" fill="#000" />
<circle cx="342.24" cy="805.20" r="4.3" fill="#000" />
<line x1="416.80" y1="702.60" x2="416.80" y2="817.30" stroke="#000" stroke-width="2.2" stroke-linecap="butt"/>
<line x1="416.80" y1="808.60" x2="682.14" y2="808.60" stroke="#000" stroke-width="2.2" stroke-linecap="butt"/>
<line x1="407.80" y1="712.20" x2="416.80" y2="712.20" stroke="#000" stroke-width="2.2" stroke-linecap="butt"/>
<line x1="407.80" y1="756.20" x2="416.80" y2="756.20" stroke="#000" stroke-width="2.2" stroke-linecap="butt"/>
<line x1="407.80" y1="800.40" x2="416.80" y2="800.40" stroke="#000" stroke-width="2.2" stroke-linecap="butt"/>
<line x1="504.88" y1="808.60" x2="504.88" y2="817.30" stroke="#000" stroke-width="2.2" stroke-linecap="butt"/>
<line x1="592.96" y1="808.60" x2="592.96" y2="817.30" stroke="#000" stroke-width="2.2" stroke-linecap="butt"/>
<line x1="681.04" y1="808.60" x2="681.04" y2="817.30" stroke="#000" stroke-width="2.2" stroke-linecap="butt"/>
<circle cx="469.65" cy="805.20" r="4.3" fill="#000" />
<circle cx="504.88" cy="805.20" r="4.3" fill="#000" />
<circle cx="566.54" cy="805.20" r="4.3" fill="#000" />
<circle cx="681.04" cy="805.20" r="4.3" fill="#000" />
<text x="210.50" y="860.00" font-size="17" text-anchor="middle" stroke="#000" stroke-width="0.25">Time (ms)</text>
<path d="M78.0,500.1 86.2,499.9 95.0,499.8 103.8,499.5 112.6,499.0 121.5,498.1 130.3,493.1 139.1,475.5 147.9,450.2 156.7,425.5 165.5,413.7 174.3,413.9 183.1,421.3 191.9,431.8 200.7,444.2 209.5,457.1 218.3,469.2 227.1,479.7 236.0,487.0 244.8,491.2 253.6,493.9 262.4,495.2 271.2,496.2 280.0,496.8 288.8,497.3 297.6,497.7 306.4,498.1 315.2,498.4 324.0,498.8 332.8,499.1 341.7,499.4 342.2,499.4" fill="none" stroke="#888888" stroke-width="7.0" stroke-linejoin="round"/>
<path d="M78.0,493.4 86.2,493.3 95.0,493.0 103.8,492.7 112.6,492.3 121.5,491.4 130.3,480.9 139.1,463.9 147.9,443.7 156.7,421.6 165.5,412.6 174.3,412.1 183.1,420.1 191.9,431.9 200.7,444.3 209.5,456.6 218.3,468.3 227.1,477.7 236.0,483.8 244.8,487.4 253.6,489.5 262.4,490.7 271.2,491.7 280.0,492.2 288.8,492.6 297.6,492.9 306.4,493.2 315.2,493.5 324.0,493.7 332.8,494.0 341.7,494.1 342.2,494.1" fill="none" stroke="#e60012" stroke-width="3.0" stroke-linejoin="round"/>
<path d="M78.0,494.7 86.2,494.7 95.0,494.4 103.8,494.1 112.6,493.6 121.5,493.1 130.3,483.3 139.1,466.8 147.9,447.3 156.7,425.0 165.5,415.1 174.3,414.3 183.1,421.8 191.9,433.3 200.7,445.4 209.5,457.6 218.3,469.3 227.1,478.7 236.0,485.0 244.8,488.6 253.6,490.8 262.4,492.0 271.2,493.0 280.0,493.5 288.8,493.9 297.6,494.2 306.4,494.5 315.2,494.8 324.0,495.0 332.8,495.3 341.7,495.4 342.2,495.4" fill="none" stroke="#ed6c05" stroke-width="3.0" stroke-linejoin="round"/>
<path d="M78.0,493.4 86.2,493.4 95.0,493.1 103.8,492.8 112.6,492.3 121.5,492.1 130.3,483.8 139.1,468.3 147.9,449.9 156.7,427.2 165.5,415.8 174.3,414.5 183.1,420.9 191.9,431.7 200.7,443.6 209.5,455.5 218.3,467.1 227.1,476.7 236.0,483.3 244.8,487.0 253.6,489.3 262.4,490.6 271.2,491.6 280.0,492.2 288.8,492.6 297.6,492.9 306.4,493.2 315.2,493.4 324.0,493.7 332.8,493.9 341.7,494.1 342.2,494.1" fill="none" stroke="#f8bb00" stroke-width="3.0" stroke-linejoin="round"/>
<path d="M78.0,493.1 86.2,493.1 95.0,492.8 103.8,492.6 112.6,492.1 121.5,491.9 130.3,483.7 139.1,468.7 147.9,450.8 156.7,428.6 165.5,417.5 174.3,416.3 183.1,422.4 191.9,433.0 200.7,444.6 209.5,456.2 218.3,467.5 227.1,476.8 236.0,483.2 244.8,486.9 253.6,489.2 262.4,490.4 271.2,491.4 280.0,491.9 288.8,492.3 297.6,492.6 306.4,492.9 315.2,493.2 324.0,493.4 332.8,493.6 341.7,493.8 342.2,493.8" fill="none" stroke="#fff100" stroke-width="3.0" stroke-linejoin="round"/>
<path d="M78.0,492.8 86.2,492.8 95.0,492.6 103.8,492.3 112.6,491.9 121.5,491.6 130.3,483.7 139.1,469.1 147.9,451.6 156.7,430.0 165.5,419.2 174.3,418.0 183.1,424.0 191.9,434.3 200.7,445.6 209.5,456.9 218.3,467.9 227.1,477.0 236.0,483.2 244.8,486.8 253.6,489.0 262.4,490.2 271.2,491.2 280.0,491.7 288.8,492.1 297.6,492.4 306.4,492.6 315.2,492.9 324.0,493.1 332.8,493.3 341.7,493.5 342.2,493.5" fill="none" stroke="#8dc21f" stroke-width="3.0" stroke-linejoin="round"/>
<path d="M78.0,492.6 86.2,492.6 95.0,492.3 103.8,492.1 112.6,491.6 121.5,491.4 130.3,483.7 139.1,469.4 147.9,452.3 156.7,431.2 165.5,420.7 174.3,419.5 183.1,425.3 191.9,435.4 200.7,446.4 209.5,457.4 218.3,468.2 227.1,477.1 236.0,483.2 244.8,486.7 253.6,488.8 262.4,490.0 271.2,490.9 280.0,491.5 288.8,491.8 297.6,492.1 306.4,492.4 315.2,492.6 324.0,492.9 332.8,493.1 341.7,493.3 342.2,493.3" fill="none" stroke="#00a14b" stroke-width="3.0" stroke-linejoin="round"/>
<path d="M78.0,492.3 86.2,492.3 95.0,492.1 103.8,491.8 112.6,491.4 121.5,491.1 130.3,483.5 139.1,469.5 147.9,452.6 156.7,431.9 165.5,421.5 174.3,420.4 183.1,426.1 191.9,436.0 200.7,446.9 209.5,457.7 218.3,468.3 227.1,477.1 236.0,483.1 244.8,486.5 253.6,488.6 262.4,489.8 271.2,490.7 280.0,491.2 288.8,491.6 297.6,491.9 306.4,492.1 315.2,492.4 324.0,492.6 332.8,492.8 341.7,493.0 342.2,493.0" fill="none" stroke="#00a072" stroke-width="3.0" stroke-linejoin="round"/>
<path d="M78.0,491.8 86.2,491.8 95.0,491.5 103.8,491.3 112.6,490.9 121.5,490.6 130.3,483.1 139.1,469.1 147.9,452.3 156.7,431.7 165.5,421.4 174.3,420.2 183.1,426.0 191.9,435.8 200.7,446.6 209.5,457.4 218.3,467.9 227.1,476.6 236.0,482.6 244.8,486.0 253.6,488.1 262.4,489.3 271.2,490.2 280.0,490.7 288.8,491.1 297.6,491.4 306.4,491.6 315.2,491.8 324.0,492.1 332.8,492.3 341.7,492.5 342.2,492.5" fill="none" stroke="#00a0c3" stroke-width="3.0" stroke-linejoin="round"/>
<path d="M78.0,491.2 86.2,491.2 95.0,491.0 103.8,490.8 112.6,490.3 121.5,490.1 130.3,482.5 139.1,468.4 147.9,451.6 156.7,430.8 165.5,420.5 174.3,419.3 183.1,425.1 191.9,435.0 200.7,445.8 209.5,456.7 218.3,467.3 227.1,476.0 236.0,482.0 244.8,485.5 253.6,487.6 262.4,488.7 271.2,489.6 280.0,490.2 288.8,490.5 297.6,490.8 306.4,491.1 315.2,491.3 324.0,491.5 332.8,491.7 341.7,491.9 342.2,491.9" fill="none" stroke="#00a2e6" stroke-width="3.0" stroke-linejoin="round"/>
<path d="M78.0,490.5 86.2,490.5 95.0,490.2 103.8,490.0 112.6,489.5 121.5,489.3 130.3,481.6 139.1,467.3 147.9,450.2 156.7,429.1 165.5,418.6 174.3,417.4 183.1,423.2 191.9,433.3 200.7,444.3 209.5,455.3 218.3,466.1 227.1,475.0 236.0,481.1 244.8,484.6 253.6,486.7 262.4,487.9 271.2,488.8 280.0,489.4 288.8,489.7 297.6,490.0 306.4,490.3 315.2,490.5 324.0,490.8 332.8,491.0 341.7,491.2 342.2,491.2" fill="none" stroke="#0a6fc0" stroke-width="3.0" stroke-linejoin="round"/>
<path d="M78.0,490.5 86.2,490.5 95.0,490.2 103.8,490.0 112.6,489.5 121.5,489.3 130.3,481.4 139.1,466.7 147.9,449.2 156.7,427.7 165.5,416.9 174.3,415.7 183.1,421.7 191.9,432.0 200.7,443.2 209.5,454.5 218.3,465.5 227.1,474.6 236.0,480.9 244.8,484.5 253.6,486.6 262.4,487.8 271.2,488.8 280.0,489.3 288.8,489.7 297.6,490.0 306.4,490.3 315.2,490.5 324.0,490.8 332.8,491.0 341.7,491.2 342.2,491.2" fill="none" stroke="#0a4fa6" stroke-width="3.0" stroke-linejoin="round"/>
<path d="M78.0,490.7 86.2,490.7 95.0,490.5 103.8,490.2 112.6,489.7 121.5,489.5 130.3,481.4 139.1,466.4 147.9,448.4 156.7,426.2 165.5,415.2 174.3,413.9 183.1,420.1 191.9,430.7 200.7,442.2 209.5,453.8 218.3,465.1 227.1,474.5 236.0,480.9 244.8,484.6 253.6,486.8 262.4,488.0 271.2,489.0 280.0,489.6 288.8,490.0 297.6,490.3 306.4,490.5 315.2,490.8 324.0,491.0 332.8,491.3 341.7,491.5 342.2,491.5" fill="none" stroke="#22278e" stroke-width="3.0" stroke-linejoin="round"/>
<path d="M78.0,491.2 86.2,491.2 95.0,491.0 103.8,490.7 112.6,490.2 121.5,490.0 130.3,481.7 139.1,466.2 147.9,447.8 156.7,425.1 165.5,413.7 174.3,412.4 183.1,418.8 191.9,429.6 200.7,441.5 209.5,453.4 218.3,465.0 227.1,474.6 236.0,481.1 244.8,484.9 253.6,487.2 262.4,488.5 271.2,489.5 280.0,490.1 288.8,490.5 297.6,490.8 306.4,491.1 315.2,491.3 324.0,491.6 332.8,491.8 341.7,492.0 342.2,492.0" fill="none" stroke="#5d208c" stroke-width="3.0" stroke-linejoin="round"/>
<path d="M78.0,492.0 86.2,492.0 95.0,491.8 103.8,491.5 112.6,491.0 121.5,490.7 130.3,481.5 139.1,465.3 147.9,446.2 156.7,423.4 165.5,412.7 174.3,411.6 183.1,418.5 191.9,429.8 200.7,442.0 209.5,454.1 218.3,465.9 227.1,475.5 236.0,482.0 244.8,485.8 253.6,488.0 262.4,489.3 271.2,490.3 280.0,490.9 288.8,491.3 297.6,491.6 306.4,491.9 315.2,492.1 324.0,492.4 332.8,492.6 341.7,492.8 342.2,492.8" fill="none" stroke="#b00784" stroke-width="3.0" stroke-linejoin="round"/>
<path d="M78.0,491.5 86.2,491.5 95.0,491.3 103.8,491.1 112.6,490.6 121.5,490.3 130.3,483.9 139.1,469.1 147.9,450.6 156.7,426.7 165.5,412.2 174.3,409.9 183.1,414.7 191.9,425.2 200.7,437.5 209.5,449.8 218.3,462.0 227.1,472.5 236.0,480.0 244.8,484.3 253.6,487.0 262.4,488.4 271.2,489.5 280.0,490.2 288.8,490.6 297.6,491.0 306.4,491.3 315.2,491.5 324.0,491.8 332.8,492.0 341.7,492.2 342.2,492.3" fill="none" stroke="#e5007d" stroke-width="3.0" stroke-linejoin="round"/>
<path d="M78.0,493.1 86.2,493.1 95.0,492.8 103.8,492.6 112.6,492.0 121.5,491.8 130.3,483.1 139.1,467.1 147.9,447.9 156.7,424.2 165.5,412.4 174.3,411.0 183.1,417.6 191.9,428.9 200.7,441.3 209.5,453.6 218.3,465.7 227.1,475.7 236.0,482.6 244.8,486.5 253.6,488.9 262.4,490.2 271.2,491.2 280.0,491.9 288.8,492.3 297.6,492.6 306.4,492.9 315.2,493.2 324.0,493.4 332.8,493.7 341.7,493.9 342.2,493.9" fill="none" stroke="#e6004c" stroke-width="3.0" stroke-linejoin="round"/>
<path d="M416.8,499.4 425.0,499.3 433.8,499.1 442.6,498.8 451.4,498.4 460.3,497.3 469.1,493.9 477.9,479.4 486.7,453.1 495.5,425.5 504.3,410.2 513.1,411.6 521.9,420.7 530.7,434.0 539.5,448.5 548.3,462.5 557.1,472.0 565.9,479.9 574.8,486.4 583.6,490.5 592.4,492.6 601.2,494.1 610.0,495.3 618.8,496.0 627.6,496.6 636.4,497.1 645.2,497.5 654.0,497.9 662.8,498.3 671.6,498.6 680.5,498.9 681.0,498.9" fill="none" stroke="#888888" stroke-width="5.0" stroke-linejoin="round"/>
<path d="M416.8,501.0 425.0,500.8 433.8,500.5 442.6,500.0 451.4,499.4 460.3,497.8 469.1,490.4 477.9,471.0 486.7,444.5 495.5,418.8 504.3,406.3 513.1,404.7 521.9,409.9 530.7,422.2 539.5,438.2 548.3,454.8 557.1,470.0 565.9,482.3 574.8,490.3 583.6,494.7 592.4,496.7 601.2,497.6 610.0,498.2 618.8,498.7 627.6,499.0 636.4,499.4 645.2,499.6 654.0,499.9 662.8,500.1 671.6,500.3 680.5,500.4 681.0,500.5" fill="none" stroke="#e60012" stroke-width="3.0" stroke-linejoin="round"/>
<path d="M416.8,501.0 425.0,500.8 433.8,500.5 442.6,500.0 451.4,499.4 460.3,497.8 469.1,490.4 477.9,471.0 486.7,444.6 495.5,418.9 504.3,406.4 513.1,404.8 521.9,410.0 530.7,422.3 539.5,438.2 548.3,454.9 557.1,470.0 565.9,482.3 574.8,490.4 583.6,494.7 592.4,496.7 601.2,497.6 610.0,498.2 618.8,498.7 627.6,499.1 636.4,499.4 645.2,499.6 654.0,499.9 662.8,500.1 671.6,500.3 680.5,500.4 681.0,500.5" fill="none" stroke="#ed6c05" stroke-width="3.0" stroke-linejoin="round"/>
<path d="M416.8,501.0 425.0,500.8 433.8,500.5 442.6,500.1 451.4,499.4 460.3,497.8 469.1,490.5 477.9,471.4 486.7,445.2 495.5,419.8 504.3,407.5 513.1,405.9 521.9,411.0 530.7,423.1 539.5,438.9 548.3,455.4 557.1,470.3 565.9,482.5 574.8,490.5 583.6,494.8 592.4,496.7 601.2,497.6 610.0,498.2 618.8,498.7 627.6,499.1 636.4,499.4 645.2,499.7 654.0,499.9 662.8,500.1 671.6,500.3 680.5,500.4 681.0,500.5" fill="none" stroke="#f8bb00" stroke-width="3.0" stroke-linejoin="round"/>
<path d="M416.8,501.0 425.0,500.8 433.8,500.5 442.6,500.1 451.4,499.4 460.3,497.9 469.1,490.7 477.9,471.9 486.7,446.2 495.5,421.2 504.3,409.2 513.1,407.6 521.9,412.7 530.7,424.6 539.5,440.1 548.3,456.2 557.1,470.9 565.9,482.8 574.8,490.7 583.6,494.9 592.4,496.8 601.2,497.7 610.0,498.3 618.8,498.7 627.6,499.1 636.4,499.4 645.2,499.7 654.0,499.9 662.8,500.1 671.6,500.3 680.5,500.5 681.0,500.5" fill="none" stroke="#fff100" stroke-width="3.0" stroke-linejoin="round"/>
<path d="M416.8,501.0 425.0,500.8 433.8,500.5 442.6,500.1 451.4,499.5 460.3,498.0 469.1,490.9 477.9,472.5 486.7,447.2 495.5,422.7 504.3,410.9 513.1,409.4 521.9,414.3 530.7,426.0 539.5,441.2 548.3,457.0 557.1,471.4 565.9,483.2 574.8,490.9 583.6,495.0 592.4,496.9 601.2,497.8 610.0,498.3 618.8,498.8 627.6,499.1 636.4,499.4 645.2,499.7 654.0,499.9 662.8,500.1 671.6,500.3 680.5,500.5 681.0,500.5" fill="none" stroke="#8dc21f" stroke-width="3.0" stroke-linejoin="round"/>
<path d="M416.8,501.0 425.0,500.8 433.8,500.5 442.6,500.1 451.4,499.5 460.3,498.0 469.1,491.0 477.9,472.8 486.7,447.8 495.5,423.6 504.3,411.9 513.1,410.4 521.9,415.3 530.7,426.9 539.5,441.9 548.3,457.6 557.1,471.8 565.9,483.4 574.8,491.0 583.6,495.1 592.4,496.9 601.2,497.8 610.0,498.4 618.8,498.8 627.6,499.2 636.4,499.5 645.2,499.7 654.0,499.9 662.8,500.2 671.6,500.3 680.5,500.5 681.0,500.5" fill="none" stroke="#00a14b" stroke-width="3.0" stroke-linejoin="round"/>
<path d="M416.8,501.0 425.0,500.8 433.8,500.5 442.6,500.1 451.4,499.5 460.3,498.0 469.1,491.0 477.9,472.8 486.7,447.9 495.5,423.7 504.3,412.0 513.1,410.5 521.9,415.4 530.7,426.9 539.5,441.9 548.3,457.6 557.1,471.8 565.9,483.4 574.8,491.0 583.6,495.1 592.4,496.9 601.2,497.8 610.0,498.4 618.8,498.8 627.6,499.2 636.4,499.5 645.2,499.7 654.0,499.9 662.8,500.2 671.6,500.3 680.5,500.5 681.0,500.5" fill="none" stroke="#00a072" stroke-width="3.0" stroke-linejoin="round"/>
<path d="M416.8,501.0 425.0,500.8 433.8,500.5 442.6,500.1 451.4,499.5 460.3,498.0 469.1,490.9 477.9,472.6 486.7,447.4 495.5,423.0 504.3,411.2 513.1,409.7 521.9,414.6 530.7,426.3 539.5,441.4 548.3,457.2 557.1,471.6 565.9,483.2 574.8,490.9 583.6,495.0 592.4,496.9 601.2,497.8 610.0,498.4 618.8,498.8 627.6,499.1 636.4,499.4 645.2,499.7 654.0,499.9 662.8,500.1 671.6,500.3 680.5,500.5 681.0,500.5" fill="none" stroke="#00a0c3" stroke-width="3.0" stroke-linejoin="round"/>
<path d="M416.8,501.0 425.0,500.8 433.8,500.5 442.6,500.1 451.4,499.5 460.3,497.9 469.1,490.8 477.9,472.2 486.7,446.8 495.5,422.1 504.3,410.2 513.1,408.6 521.9,413.6 530.7,425.4 539.5,440.7 548.3,456.7 557.1,471.2 565.9,483.0 574.8,490.8 583.6,495.0 592.4,496.8 601.2,497.7 610.0,498.3 618.8,498.8 627.6,499.1 636.4,499.4 645.2,499.7 654.0,499.9 662.8,500.1 671.6,500.3 680.5,500.5 681.0,500.5" fill="none" stroke="#00a2e6" stroke-width="3.0" stroke-linejoin="round"/>
<path d="M416.8,501.0 425.0,500.8 433.8,500.5 442.6,500.1 451.4,499.4 460.3,497.9 469.1,490.7 477.9,472.0 486.7,446.3 495.5,421.4 504.3,409.3 513.1,407.8 521.9,412.8 530.7,424.7 539.5,440.2 548.3,456.3 557.1,470.9 565.9,482.9 574.8,490.7 583.6,494.9 592.4,496.8 601.2,497.7 610.0,498.3 618.8,498.7 627.6,499.1 636.4,499.4 645.2,499.7 654.0,499.9 662.8,500.1 671.6,500.3 680.5,500.5 681.0,500.5" fill="none" stroke="#0a6fc0" stroke-width="3.0" stroke-linejoin="round"/>
<path d="M416.8,501.0 425.0,500.8 433.8,500.5 442.6,500.1 451.4,499.4 460.3,497.9 469.1,490.7 477.9,471.9 486.7,446.1 495.5,421.1 504.3,409.0 513.1,407.5 521.9,412.5 530.7,424.5 539.5,440.0 548.3,456.2 557.1,470.8 565.9,482.8 574.8,490.7 583.6,494.9 592.4,496.8 601.2,497.7 610.0,498.3 618.8,498.7 627.6,499.1 636.4,499.4 645.2,499.7 654.0,499.9 662.8,500.1 671.6,500.3 680.5,500.5 681.0,500.5" fill="none" stroke="#0a4fa6" stroke-width="3.0" stroke-linejoin="round"/>
<path d="M416.8,501.0 425.0,500.8 433.8,500.5 442.6,500.1 451.4,499.4 460.3,497.9 469.1,490.7 477.9,471.9 486.7,446.2 495.5,421.2 504.3,409.2 513.1,407.6 521.9,412.7 530.7,424.6 539.5,440.1 548.3,456.2 557.1,470.9 565.9,482.8 574.8,490.7 583.6,494.9 592.4,496.8 601.2,497.7 610.0,498.3 618.8,498.7 627.6,499.1 636.4,499.4 645.2,499.7 654.0,499.9 662.8,500.1 671.6,500.3 680.5,500.5 681.0,500.5" fill="none" stroke="#22278e" stroke-width="3.0" stroke-linejoin="round"/>
<path d="M416.8,501.0 425.0,500.8 433.8,500.5 442.6,500.1 451.4,499.4 460.3,497.9 469.1,490.7 477.9,472.0 486.7,446.3 495.5,421.4 504.3,409.3 513.1,407.7 521.9,412.8 530.7,424.7 539.5,440.1 548.3,456.3 557.1,470.9 565.9,482.9 574.8,490.7 583.6,494.9 592.4,496.8 601.2,497.7 610.0,498.3 618.8,498.7 627.6,499.1 636.4,499.4 645.2,499.7 654.0,499.9 662.8,500.1 671.6,500.3 680.5,500.5 681.0,500.5" fill="none" stroke="#5d208c" stroke-width="3.0" stroke-linejoin="round"/>
<path d="M416.8,501.0 425.0,500.8 433.8,500.5 442.6,500.1 451.4,499.4 460.3,497.9 469.1,490.7 477.9,471.9 486.7,446.1 495.5,421.1 504.3,409.0 513.1,407.4 521.9,412.5 530.7,424.4 539.5,439.9 548.3,456.1 557.1,470.8 565.9,482.8 574.8,490.6 583.6,494.9 592.4,496.8 601.2,497.7 610.0,498.3 618.8,498.7 627.6,499.1 636.4,499.4 645.2,499.7 654.0,499.9 662.8,500.1 671.6,500.3 680.5,500.5 681.0,500.5" fill="none" stroke="#b00784" stroke-width="3.0" stroke-linejoin="round"/>
<path d="M416.8,501.0 425.0,500.8 433.8,500.5 442.6,500.1 451.4,499.4 460.3,497.9 469.1,490.6 477.9,471.6 486.7,445.6 495.5,420.4 504.3,408.2 513.1,406.6 521.9,411.7 530.7,423.7 539.5,439.4 548.3,455.7 557.1,470.6 565.9,482.6 574.8,490.6 583.6,494.8 592.4,496.7 601.2,497.7 610.0,498.3 618.8,498.7 627.6,499.1 636.4,499.4 645.2,499.7 654.0,499.9 662.8,500.1 671.6,500.3 680.5,500.5 681.0,500.5" fill="none" stroke="#e5007d" stroke-width="3.0" stroke-linejoin="round"/>
<path d="M416.8,501.0 425.0,500.8 433.8,500.5 442.6,500.0 451.4,499.4 460.3,497.8 469.1,490.5 477.9,471.3 486.7,445.0 495.5,419.5 504.3,407.1 513.1,405.5 521.9,410.7 530.7,422.8 539.5,438.7 548.3,455.2 557.1,470.2 565.9,482.4 574.8,490.4 583.6,494.8 592.4,496.7 601.2,497.6 610.0,498.2 618.8,498.7 627.6,499.1 636.4,499.4 645.2,499.6 654.0,499.9 662.8,500.1 671.6,500.3 680.5,500.4 681.0,500.5" fill="none" stroke="#e6004c" stroke-width="3.0" stroke-linejoin="round"/>
<path d="M78.0,606.7 86.2,606.8 95.0,607.0 103.8,607.2 112.6,607.6 121.5,608.4 130.3,611.6 139.1,617.2 147.9,622.8 156.7,628.4 165.5,631.8 174.3,631.4 183.1,628.8 191.9,626.1 200.7,622.3 209.5,618.4 218.3,614.9 227.1,612.1 236.0,610.5 244.8,609.2 253.6,608.5 262.4,608.1 271.2,607.4 280.0,606.9 288.8,606.7 297.6,606.6 306.4,606.5 315.2,606.4 324.0,606.3 332.8,606.2 341.7,606.2 342.2,606.2" fill="none" stroke="#e60012" stroke-width="3.0" stroke-linejoin="round"/>
<path d="M78.0,757.1 86.2,757.1 95.0,757.2 103.8,757.3 112.6,757.5 121.5,757.8 130.3,759.1 139.1,761.4 147.9,763.6 156.7,765.9 165.5,767.3 174.3,767.1 183.1,766.1 191.9,765.0 200.7,763.5 209.5,761.9 218.3,760.5 227.1,759.3 236.0,758.6 244.8,758.1 253.6,757.8 262.4,757.6 271.2,757.4 280.0,757.2 288.8,757.1 297.6,757.1 306.4,757.0 315.2,757.0 324.0,756.9 332.8,756.9 341.7,756.9 342.2,756.9" fill="none" stroke="#e60012" stroke-width="3.0" stroke-linejoin="round"/>
<path d="M416.8,605.2 425.0,605.2 433.8,605.2 442.6,605.2 451.4,605.4 460.3,606.1 469.1,609.0 477.9,616.0 486.7,624.9 495.5,631.2 504.3,634.3 513.1,634.4 521.9,632.4 530.7,629.2 539.5,623.8 548.3,617.7 557.1,612.8 565.9,609.6 574.8,607.3 583.6,606.1 592.4,605.6 601.2,605.3 610.0,605.2 618.8,605.2 627.6,605.2 636.4,605.2 645.2,605.2 654.0,605.2 662.8,605.2 671.6,605.2 680.5,605.2 681.0,605.2" fill="none" stroke="#e60012" stroke-width="3.0" stroke-linejoin="round"/>
<path d="M416.8,756.4 425.0,756.4 433.8,756.4 442.6,756.4 451.4,756.4 460.3,756.7 469.1,757.9 477.9,760.8 486.7,764.4 495.5,766.9 504.3,768.2 513.1,768.2 521.9,767.4 530.7,766.1 539.5,763.9 548.3,761.5 557.1,759.4 565.9,758.1 574.8,757.2 583.6,756.7 592.4,756.5 601.2,756.4 610.0,756.4 618.8,756.4 627.6,756.4 636.4,756.4 645.2,756.4 654.0,756.4 662.8,756.4 671.6,756.4 680.5,756.4 681.0,756.4" fill="none" stroke="#e60012" stroke-width="3.0" stroke-linejoin="round"/>
<path d="M78.0,606.3 86.2,606.3 95.0,606.5 103.8,606.7 112.6,607.0 121.5,607.6 130.3,610.2 139.1,614.7 147.9,619.2 156.7,623.7 165.5,626.5 174.3,626.1 183.1,624.1 191.9,621.9 200.7,618.9 209.5,615.7 218.3,612.9 227.1,610.7 236.0,609.3 244.8,608.3 253.6,607.7 262.4,607.4 271.2,606.8 280.0,606.4 288.8,606.3 297.6,606.2 306.4,606.1 315.2,606.0 324.0,606.0 332.8,605.9 341.7,605.9 342.2,605.8" fill="none" stroke="#ed6c05" stroke-width="3.0" stroke-linejoin="round"/>
<path d="M78.0,757.9 86.2,758.0 95.0,758.1 103.8,758.3 112.6,758.6 121.5,759.2 130.3,761.7 139.1,766.1 147.9,770.4 156.7,774.8 165.5,777.4 174.3,777.1 183.1,775.1 191.9,773.0 200.7,770.0 209.5,767.0 218.3,764.3 227.1,762.1 236.0,760.9 244.8,759.9 253.6,759.3 262.4,759.0 271.2,758.4 280.0,758.1 288.8,757.9 297.6,757.8 306.4,757.8 315.2,757.7 324.0,757.6 332.8,757.6 341.7,757.5 342.2,757.5" fill="none" stroke="#ed6c05" stroke-width="3.0" stroke-linejoin="round"/>
<path d="M416.8,605.1 425.0,605.1 433.8,605.1 442.6,605.1 451.4,605.2 460.3,605.7 469.1,608.0 477.9,613.4 486.7,620.3 495.5,625.1 504.3,627.5 513.1,627.6 521.9,626.1 530.7,623.6 539.5,619.4 548.3,614.7 557.1,610.9 565.9,608.4 574.8,606.7 583.6,605.8 592.4,605.3 601.2,605.1 610.0,605.1 618.8,605.1 627.6,605.1 636.4,605.1 645.2,605.1 654.0,605.1 662.8,605.1 671.6,605.1 680.5,605.1 681.0,605.1" fill="none" stroke="#ed6c05" stroke-width="3.0" stroke-linejoin="round"/>
<path d="M416.8,756.5 425.0,756.5 433.8,756.5 442.6,756.5 451.4,756.6 460.3,757.2 469.1,759.4 477.9,764.8 486.7,771.7 495.5,776.5 504.3,779.0 513.1,779.0 521.9,777.5 530.7,775.0 539.5,770.8 548.3,766.2 557.1,762.3 565.9,759.9 574.8,758.1 583.6,757.2 592.4,756.8 601.2,756.6 610.0,756.5 618.8,756.5 627.6,756.5 636.4,756.5 645.2,756.5 654.0,756.5 662.8,756.5 671.6,756.5 680.5,756.5 681.0,756.5" fill="none" stroke="#ed6c05" stroke-width="3.0" stroke-linejoin="round"/>
<path d="M78.0,605.5 86.2,605.5 95.0,605.6 103.8,605.7 112.6,605.9 121.5,606.2 130.3,607.6 139.1,610.1 147.9,612.5 156.7,615.0 165.5,616.5 174.3,616.3 183.1,615.2 191.9,614.0 200.7,612.3 209.5,610.6 218.3,609.1 227.1,607.9 236.0,607.1 244.8,606.6 253.6,606.2 262.4,606.1 271.2,605.8 280.0,605.6 288.8,605.5 297.6,605.4 306.4,605.4 315.2,605.3 324.0,605.3 332.8,605.3 341.7,605.2 342.2,605.2" fill="none" stroke="#f8bb00" stroke-width="3.0" stroke-linejoin="round"/>
<path d="M78.0,758.4 86.2,758.5 95.0,758.7 103.8,758.9 112.6,759.3 121.5,760.1 130.3,763.4 139.1,769.1 147.9,774.7 156.7,780.5 165.5,783.9 174.3,783.5 183.1,780.9 191.9,778.2 200.7,774.3 209.5,770.3 218.3,766.8 227.1,764.0 236.0,762.3 244.8,761.0 253.6,760.2 262.4,759.8 271.2,759.1 280.0,758.6 288.8,758.5 297.6,758.3 306.4,758.2 315.2,758.1 324.0,758.0 332.8,758.0 341.7,757.9 342.2,757.9" fill="none" stroke="#f8bb00" stroke-width="3.0" stroke-linejoin="round"/>
<path d="M416.8,604.8 425.0,604.8 433.8,604.8 442.6,604.8 451.4,604.9 460.3,605.1 469.1,606.3 477.9,609.0 486.7,612.4 495.5,614.9 504.3,616.1 513.1,616.1 521.9,615.3 530.7,614.1 539.5,612.0 548.3,609.6 557.1,607.7 565.9,606.5 574.8,605.6 583.6,605.1 592.4,604.9 601.2,604.8 610.0,604.8 618.8,604.8 627.6,604.8 636.4,604.8 645.2,604.8 654.0,604.8 662.8,604.8 671.6,604.8 680.5,604.8 681.0,604.8" fill="none" stroke="#f8bb00" stroke-width="3.0" stroke-linejoin="round"/>
<path d="M416.8,756.6 425.0,756.6 433.8,756.6 442.6,756.6 451.4,756.8 460.3,757.5 469.1,760.4 477.9,767.5 486.7,776.5 495.5,782.9 504.3,786.1 513.1,786.1 521.9,784.2 530.7,780.9 539.5,775.4 548.3,769.3 557.1,764.2 565.9,761.0 574.8,758.7 583.6,757.5 592.4,757.0 601.2,756.7 610.0,756.6 618.8,756.6 627.6,756.6 636.4,756.6 645.2,756.6 654.0,756.6 662.8,756.6 671.6,756.6 680.5,756.6 681.0,756.6" fill="none" stroke="#f8bb00" stroke-width="3.0" stroke-linejoin="round"/>
<path d="M78.0,604.5 86.2,604.5 95.0,604.5 103.8,604.5 112.6,604.5 121.5,604.5 130.3,604.5 139.1,604.5 147.9,604.6 156.7,604.6 165.5,604.6 174.3,604.6 183.1,604.6 191.9,604.6 200.7,604.6 209.5,604.5 218.3,604.5 227.1,604.5 236.0,604.5 244.8,604.5 253.6,604.5 262.4,604.5 271.2,604.5 280.0,604.5 288.8,604.5 297.6,604.5 306.4,604.5 315.2,604.5 324.0,604.5 332.8,604.5 341.7,604.5 342.2,604.5" fill="none" stroke="#fff100" stroke-width="3.0" stroke-linejoin="round"/>
<path d="M78.0,758.6 86.2,758.7 95.0,758.9 103.8,759.2 112.6,759.6 121.5,760.4 130.3,764.0 139.1,770.2 147.9,776.3 156.7,782.5 165.5,786.3 174.3,785.8 183.1,783.0 191.9,780.0 200.7,775.8 209.5,771.6 218.3,767.7 227.1,764.6 236.0,762.8 244.8,761.4 253.6,760.6 262.4,760.1 271.2,759.3 280.0,758.8 288.8,758.6 297.6,758.5 306.4,758.4 315.2,758.3 324.0,758.2 332.8,758.1 341.7,758.0 342.2,758.0" fill="none" stroke="#fff100" stroke-width="3.0" stroke-linejoin="round"/>
<path d="M416.8,604.5 425.0,604.5 433.8,604.5 442.6,604.5 451.4,604.5 460.3,604.5 469.1,604.4 477.9,604.2 486.7,604.0 495.5,603.9 504.3,603.8 513.1,603.8 521.9,603.9 530.7,603.9 539.5,604.1 548.3,604.2 557.1,604.3 565.9,604.4 574.8,604.4 583.6,604.5 592.4,604.5 601.2,604.5 610.0,604.5 618.8,604.5 627.6,604.5 636.4,604.5 645.2,604.5 654.0,604.5 662.8,604.5 671.6,604.5 680.5,604.5 681.0,604.5" fill="none" stroke="#fff100" stroke-width="3.0" stroke-linejoin="round"/>
<path d="M416.8,756.6 425.0,756.6 433.8,756.6 442.6,756.6 451.4,756.8 460.3,757.6 469.1,760.7 477.9,768.3 486.7,777.8 495.5,784.6 504.3,788.0 513.1,788.0 521.9,785.9 530.7,782.5 539.5,776.6 548.3,770.1 557.1,764.7 565.9,761.3 574.8,758.9 583.6,757.6 592.4,757.0 601.2,756.7 610.0,756.6 618.8,756.6 627.6,756.6 636.4,756.6 645.2,756.6 654.0,756.6 662.8,756.6 671.6,756.6 680.5,756.6 681.0,756.6" fill="none" stroke="#fff100" stroke-width="3.0" stroke-linejoin="round"/>
<path d="M78.0,603.6 86.2,603.6 95.0,603.5 103.8,603.4 112.6,603.3 121.5,603.0 130.3,601.7 139.1,599.5 147.9,597.3 156.7,595.1 165.5,593.7 174.3,593.9 183.1,594.9 191.9,596.0 200.7,597.5 209.5,599.0 218.3,600.4 227.1,601.5 236.0,602.1 244.8,602.6 253.6,602.9 262.4,603.1 271.2,603.4 280.0,603.5 288.8,603.6 297.6,603.7 306.4,603.7 315.2,603.7 324.0,603.8 332.8,603.8 341.7,603.8 342.2,603.8" fill="none" stroke="#8dc21f" stroke-width="3.0" stroke-linejoin="round"/>
<path d="M78.0,758.4 86.2,758.5 95.0,758.7 103.8,758.9 112.6,759.3 121.5,760.1 130.3,763.3 139.1,768.9 147.9,774.5 156.7,780.1 165.5,783.5 174.3,783.1 183.1,780.5 191.9,777.8 200.7,774.0 209.5,770.1 218.3,766.6 227.1,763.9 236.0,762.2 244.8,760.9 253.6,760.2 262.4,759.8 271.2,759.1 280.0,758.6 288.8,758.5 297.6,758.3 306.4,758.2 315.2,758.1 324.0,758.0 332.8,758.0 341.7,757.9 342.2,757.9" fill="none" stroke="#8dc21f" stroke-width="3.0" stroke-linejoin="round"/>
<path d="M416.8,604.2 425.0,604.2 433.8,604.2 442.6,604.2 451.4,604.1 460.3,603.8 469.1,602.6 477.9,599.7 486.7,596.1 495.5,593.5 504.3,592.2 513.1,592.2 521.9,593.0 530.7,594.3 539.5,596.5 548.3,599.0 557.1,601.1 565.9,602.4 574.8,603.3 583.6,603.8 592.4,604.1 601.2,604.2 610.0,604.2 618.8,604.2 627.6,604.2 636.4,604.2 645.2,604.2 654.0,604.2 662.8,604.2 671.6,604.2 680.5,604.2 681.0,604.2" fill="none" stroke="#8dc21f" stroke-width="3.0" stroke-linejoin="round"/>
<path d="M416.8,756.6 425.0,756.6 433.8,756.6 442.6,756.6 451.4,756.8 460.3,757.5 469.1,760.3 477.9,767.2 486.7,776.0 495.5,782.2 504.3,785.3 513.1,785.3 521.9,783.4 530.7,780.3 539.5,774.9 548.3,768.9 557.1,764.0 565.9,760.9 574.8,758.7 583.6,757.5 592.4,756.9 601.2,756.7 610.0,756.6 618.8,756.6 627.6,756.6 636.4,756.6 645.2,756.6 654.0,756.6 662.8,756.6 671.6,756.6 680.5,756.6 681.0,756.6" fill="none" stroke="#8dc21f" stroke-width="3.0" stroke-linejoin="round"/>
<path d="M78.0,602.9 86.2,602.9 95.0,602.7 103.8,602.6 112.6,602.3 121.5,601.7 130.3,599.4 139.1,595.4 147.9,591.4 156.7,587.4 165.5,585.0 174.3,585.3 183.1,587.1 191.9,589.0 200.7,591.7 209.5,594.5 218.3,597.0 227.1,599.0 236.0,600.2 244.8,601.1 253.6,601.7 262.4,602.0 271.2,602.5 280.0,602.8 288.8,602.9 297.6,603.0 306.4,603.1 315.2,603.1 324.0,603.2 332.8,603.3 341.7,603.3 342.2,603.3" fill="none" stroke="#00a14b" stroke-width="3.0" stroke-linejoin="round"/>
<path d="M78.0,757.9 86.2,757.9 95.0,758.1 103.8,758.3 112.6,758.6 121.5,759.2 130.3,761.6 139.1,765.9 147.9,770.1 156.7,774.5 165.5,777.0 174.3,776.7 183.1,774.8 191.9,772.7 200.7,769.8 209.5,766.8 218.3,764.2 227.1,762.0 236.0,760.8 244.8,759.8 253.6,759.2 262.4,758.9 271.2,758.4 280.0,758.0 288.8,757.9 297.6,757.8 306.4,757.7 315.2,757.7 324.0,757.6 332.8,757.5 341.7,757.5 342.2,757.5" fill="none" stroke="#00a14b" stroke-width="3.0" stroke-linejoin="round"/>
<path d="M416.8,604.0 425.0,604.0 433.8,604.0 442.6,604.0 451.4,603.8 460.3,603.3 469.1,601.2 477.9,596.0 486.7,589.4 495.5,584.7 504.3,582.4 513.1,582.4 521.9,583.8 530.7,586.2 539.5,590.2 548.3,594.7 557.1,598.4 565.9,600.8 574.8,602.4 583.6,603.3 592.4,603.7 601.2,603.9 610.0,604.0 618.8,604.0 627.6,604.0 636.4,604.0 645.2,604.0 654.0,604.0 662.8,604.0 671.6,604.0 680.5,604.0 681.0,604.0" fill="none" stroke="#00a14b" stroke-width="3.0" stroke-linejoin="round"/>
<path d="M416.8,756.5 425.0,756.5 433.8,756.5 442.6,756.5 451.4,756.6 460.3,757.2 469.1,759.3 477.9,764.5 486.7,771.2 495.5,775.8 504.3,778.2 513.1,778.2 521.9,776.8 530.7,774.4 539.5,770.3 548.3,765.8 557.1,762.1 565.9,759.7 574.8,758.1 583.6,757.2 592.4,756.8 601.2,756.6 610.0,756.5 618.8,756.5 627.6,756.5 636.4,756.5 645.2,756.5 654.0,756.5 662.8,756.5 671.6,756.5 680.5,756.5 681.0,756.5" fill="none" stroke="#00a14b" stroke-width="3.0" stroke-linejoin="round"/>
<path d="M78.0,602.4 86.2,602.3 95.0,602.1 103.8,601.9 112.6,601.5 121.5,600.8 130.3,597.7 139.1,592.4 147.9,587.1 156.7,581.7 165.5,578.5 174.3,578.9 183.1,581.3 191.9,583.9 200.7,587.5 209.5,591.2 218.3,594.5 227.1,597.2 236.0,598.7 244.8,600.0 253.6,600.7 262.4,601.1 271.2,601.8 280.0,602.2 288.8,602.3 297.6,602.5 306.4,602.6 315.2,602.6 324.0,602.7 332.8,602.8 341.7,602.9 342.2,602.9" fill="none" stroke="#00a072" stroke-width="3.0" stroke-linejoin="round"/>
<path d="M78.0,757.1 86.2,757.2 95.0,757.2 103.8,757.3 112.6,757.5 121.5,757.8 130.3,759.1 139.1,761.5 147.9,763.7 156.7,766.1 165.5,767.5 174.3,767.3 183.1,766.2 191.9,765.1 200.7,763.6 209.5,762.0 218.3,760.5 227.1,759.4 236.0,758.7 244.8,758.2 253.6,757.9 262.4,757.7 271.2,757.4 280.0,757.2 288.8,757.1 297.6,757.1 306.4,757.0 315.2,757.0 324.0,757.0 332.8,756.9 341.7,756.9 342.2,756.9" fill="none" stroke="#00a072" stroke-width="3.0" stroke-linejoin="round"/>
<path d="M416.8,603.8 425.0,603.8 433.8,603.8 442.6,603.8 451.4,603.6 460.3,602.9 469.1,600.0 477.9,593.1 486.7,584.3 495.5,578.0 504.3,574.9 513.1,574.9 521.9,576.8 530.7,580.0 539.5,585.4 548.3,591.4 557.1,596.3 565.9,599.5 574.8,601.7 583.6,602.9 592.4,603.4 601.2,603.7 610.0,603.8 618.8,603.8 627.6,603.8 636.4,603.8 645.2,603.8 654.0,603.8 662.8,603.8 671.6,603.8 680.5,603.8 681.0,603.8" fill="none" stroke="#00a072" stroke-width="3.0" stroke-linejoin="round"/>
<path d="M416.8,756.4 425.0,756.4 433.8,756.4 442.6,756.4 451.4,756.4 460.3,756.7 469.1,757.9 477.9,760.7 486.7,764.2 495.5,766.7 504.3,767.9 513.1,767.9 521.9,767.2 530.7,765.9 539.5,763.7 548.3,761.3 557.1,759.4 565.9,758.1 574.8,757.2 583.6,756.7 592.4,756.5 601.2,756.4 610.0,756.4 618.8,756.4 627.6,756.4 636.4,756.4 645.2,756.4 654.0,756.4 662.8,756.4 671.6,756.4 680.5,756.4 681.0,756.4" fill="none" stroke="#00a072" stroke-width="3.0" stroke-linejoin="round"/>
<path d="M78.0,602.2 86.2,602.1 95.0,601.9 103.8,601.6 112.6,601.2 121.5,600.4 130.3,597.0 139.1,591.0 147.9,585.1 156.7,579.1 165.5,575.5 174.3,575.9 183.1,578.7 191.9,581.5 200.7,585.6 209.5,589.7 218.3,593.4 227.1,596.4 236.0,598.1 244.8,599.5 253.6,600.3 262.4,600.7 271.2,601.5 280.0,602.0 288.8,602.1 297.6,602.3 306.4,602.4 315.2,602.5 324.0,602.6 332.8,602.7 341.7,602.7 342.2,602.7" fill="none" stroke="#00a0c3" stroke-width="3.0" stroke-linejoin="round"/>
<path d="M78.0,756.3 86.2,756.3 95.0,756.3 103.8,756.3 112.6,756.4 121.5,756.4 130.3,756.6 139.1,756.8 147.9,757.1 156.7,757.4 165.5,757.6 174.3,757.5 183.1,757.4 191.9,757.3 200.7,757.1 209.5,756.9 218.3,756.7 227.1,756.6 236.0,756.5 244.8,756.4 253.6,756.4 262.4,756.4 271.2,756.3 280.0,756.3 288.8,756.3 297.6,756.3 306.4,756.3 315.2,756.3 324.0,756.3 332.8,756.3 341.7,756.3 342.2,756.3" fill="none" stroke="#00a0c3" stroke-width="3.0" stroke-linejoin="round"/>
<path d="M416.8,603.7 425.0,603.7 433.8,603.7 442.6,603.7 451.4,603.5 460.3,602.8 469.1,599.6 477.9,592.1 486.7,582.4 495.5,575.7 504.3,572.3 513.1,572.2 521.9,574.3 530.7,577.8 539.5,583.7 548.3,590.2 557.1,595.6 565.9,599.0 574.8,601.4 583.6,602.7 592.4,603.3 601.2,603.6 610.0,603.7 618.8,603.7 627.6,603.7 636.4,603.7 645.2,603.7 654.0,603.7 662.8,603.7 671.6,603.7 680.5,603.7 681.0,603.7" fill="none" stroke="#00a0c3" stroke-width="3.0" stroke-linejoin="round"/>
<path d="M416.8,756.2 425.0,756.2 433.8,756.2 442.6,756.2 451.4,756.2 460.3,756.2 469.1,756.4 477.9,756.6 486.7,757.0 495.5,757.2 504.3,757.3 513.1,757.3 521.9,757.2 530.7,757.1 539.5,756.9 548.3,756.7 557.1,756.5 565.9,756.4 574.8,756.3 583.6,756.2 592.4,756.2 601.2,756.2 610.0,756.2 618.8,756.2 627.6,756.2 636.4,756.2 645.2,756.2 654.0,756.2 662.8,756.2 671.6,756.2 680.5,756.2 681.0,756.2" fill="none" stroke="#00a0c3" stroke-width="3.0" stroke-linejoin="round"/>
<path d="M78.0,602.4 86.2,602.3 95.0,602.2 103.8,601.9 112.6,601.5 121.5,600.8 130.3,597.8 139.1,592.4 147.9,587.1 156.7,581.8 165.5,578.6 174.3,579.0 183.1,581.4 191.9,583.9 200.7,587.6 209.5,591.2 218.3,594.6 227.1,597.2 236.0,598.8 244.8,600.0 253.6,600.7 262.4,601.1 271.2,601.8 280.0,602.2 288.8,602.4 297.6,602.5 306.4,602.6 315.2,602.7 324.0,602.7 332.8,602.8 341.7,602.9 342.2,602.9" fill="none" stroke="#00a2e6" stroke-width="3.0" stroke-linejoin="round"/>
<path d="M78.0,755.3 86.2,755.2 95.0,755.2 103.8,755.1 112.6,754.9 121.5,754.6 130.3,753.3 139.1,750.9 147.9,748.6 156.7,746.3 165.5,744.9 174.3,745.1 183.1,746.1 191.9,747.2 200.7,748.8 209.5,750.4 218.3,751.9 227.1,753.0 236.0,753.7 244.8,754.2 253.6,754.5 262.4,754.7 271.2,755.0 280.0,755.2 288.8,755.3 297.6,755.3 306.4,755.4 315.2,755.4 324.0,755.4 332.8,755.5 341.7,755.5 342.2,755.5" fill="none" stroke="#00a2e6" stroke-width="3.0" stroke-linejoin="round"/>
<path d="M416.8,603.8 425.0,603.8 433.8,603.8 442.6,603.8 451.4,603.6 460.3,602.9 469.1,600.1 477.9,593.4 486.7,584.8 495.5,578.8 504.3,575.8 513.1,575.8 521.9,577.6 530.7,580.7 539.5,586.0 548.3,591.8 557.1,596.5 565.9,599.6 574.8,601.8 583.6,602.9 592.4,603.4 601.2,603.7 610.0,603.8 618.8,603.8 627.6,603.8 636.4,603.8 645.2,603.8 654.0,603.8 662.8,603.8 671.6,603.8 680.5,603.8 681.0,603.8" fill="none" stroke="#00a2e6" stroke-width="3.0" stroke-linejoin="round"/>
<path d="M416.8,756.0 425.0,756.0 433.8,756.0 442.6,756.0 451.4,756.0 460.3,755.7 469.1,754.5 477.9,751.6 486.7,747.9 495.5,745.3 504.3,744.0 513.1,744.0 521.9,744.8 530.7,746.1 539.5,748.4 548.3,750.9 557.1,752.9 565.9,754.2 574.8,755.2 583.6,755.7 592.4,755.9 601.2,756.0 610.0,756.0 618.8,756.0 627.6,756.0 636.4,756.0 645.2,756.0 654.0,756.0 662.8,756.0 671.6,756.0 680.5,756.0 681.0,756.0" fill="none" stroke="#00a2e6" stroke-width="3.0" stroke-linejoin="round"/>
<path d="M78.0,603.0 86.2,602.9 95.0,602.8 103.8,602.6 112.6,602.4 121.5,601.8 130.3,599.7 139.1,595.8 147.9,592.0 156.7,588.1 165.5,585.8 174.3,586.1 183.1,587.8 191.9,589.7 200.7,592.3 209.5,594.9 218.3,597.3 227.1,599.3 236.0,600.4 244.8,601.3 253.6,601.8 262.4,602.1 271.2,602.5 280.0,602.8 288.8,603.0 297.6,603.1 306.4,603.1 315.2,603.2 324.0,603.3 332.8,603.3 341.7,603.3 342.2,603.4" fill="none" stroke="#0a6fc0" stroke-width="3.0" stroke-linejoin="round"/>
<path d="M78.0,754.5 86.2,754.5 95.0,754.3 103.8,754.1 112.6,753.8 121.5,753.2 130.3,750.8 139.1,746.5 147.9,742.3 156.7,738.0 165.5,735.4 174.3,735.7 183.1,737.6 191.9,739.7 200.7,742.6 209.5,745.6 218.3,748.2 227.1,750.4 236.0,751.6 244.8,752.6 253.6,753.2 262.4,753.5 271.2,754.0 280.0,754.4 288.8,754.5 297.6,754.6 306.4,754.7 315.2,754.7 324.0,754.8 332.8,754.9 341.7,754.9 342.2,754.9" fill="none" stroke="#0a6fc0" stroke-width="3.0" stroke-linejoin="round"/>
<path d="M416.8,604.0 425.0,604.0 433.8,604.0 442.6,604.0 451.4,603.8 460.3,603.3 469.1,601.3 477.9,596.3 486.7,590.0 495.5,585.5 504.3,583.3 513.1,583.2 521.9,584.6 530.7,586.9 539.5,590.8 548.3,595.1 557.1,598.6 565.9,600.9 574.8,602.5 583.6,603.3 592.4,603.7 601.2,603.9 610.0,604.0 618.8,604.0 627.6,604.0 636.4,604.0 645.2,604.0 654.0,604.0 662.8,604.0 671.6,604.0 680.5,604.0 681.0,604.0" fill="none" stroke="#0a6fc0" stroke-width="3.0" stroke-linejoin="round"/>
<path d="M416.8,755.9 425.0,755.9 433.8,755.9 442.6,755.9 451.4,755.8 460.3,755.2 469.1,753.1 477.9,747.9 486.7,741.3 495.5,736.6 504.3,734.3 513.1,734.3 521.9,735.7 530.7,738.1 539.5,742.1 548.3,746.6 557.1,750.3 565.9,752.7 574.8,754.3 583.6,755.2 592.4,755.6 601.2,755.8 610.0,755.9 618.8,755.9 627.6,755.9 636.4,755.9 645.2,755.9 654.0,755.9 662.8,755.9 671.6,755.9 680.5,755.9 681.0,755.9" fill="none" stroke="#0a6fc0" stroke-width="3.0" stroke-linejoin="round"/>
<path d="M78.0,603.7 86.2,603.6 95.0,603.6 103.8,603.5 112.6,603.3 121.5,603.0 130.3,601.8 139.1,599.6 147.9,597.5 156.7,595.3 165.5,594.0 174.3,594.1 183.1,595.1 191.9,596.2 200.7,597.6 209.5,599.1 218.3,600.5 227.1,601.6 236.0,602.2 244.8,602.7 253.6,603.0 262.4,603.1 271.2,603.4 280.0,603.6 288.8,603.6 297.6,603.7 306.4,603.7 315.2,603.8 324.0,603.8 332.8,603.8 341.7,603.9 342.2,603.9" fill="none" stroke="#0a4fa6" stroke-width="3.0" stroke-linejoin="round"/>
<path d="M78.0,754.0 86.2,754.0 95.0,753.8 103.8,753.5 112.6,753.1 121.5,752.4 130.3,749.2 139.1,743.6 147.9,738.1 156.7,732.6 165.5,729.2 174.3,729.6 183.1,732.1 191.9,734.8 200.7,738.6 209.5,742.4 218.3,745.9 227.1,748.6 236.0,750.3 244.8,751.5 253.6,752.3 262.4,752.7 271.2,753.4 280.0,753.8 288.8,754.0 297.6,754.1 306.4,754.2 315.2,754.3 324.0,754.4 332.8,754.5 341.7,754.6 342.2,754.6" fill="none" stroke="#0a4fa6" stroke-width="3.0" stroke-linejoin="round"/>
<path d="M416.8,604.2 425.0,604.2 433.8,604.2 442.6,604.2 451.4,604.1 460.3,603.9 469.1,602.7 477.9,599.9 486.7,596.4 495.5,593.9 504.3,592.6 513.1,592.6 521.9,593.4 530.7,594.6 539.5,596.8 548.3,599.2 557.1,601.2 565.9,602.5 574.8,603.4 583.6,603.9 592.4,604.1 601.2,604.2 610.0,604.2 618.8,604.2 627.6,604.2 636.4,604.2 645.2,604.2 654.0,604.2 662.8,604.2 671.6,604.2 680.5,604.2 681.0,604.2" fill="none" stroke="#0a4fa6" stroke-width="3.0" stroke-linejoin="round"/>
<path d="M416.8,755.8 425.0,755.8 433.8,755.8 442.6,755.8 451.4,755.6 460.3,754.9 469.1,752.1 477.9,745.1 486.7,736.4 495.5,730.2 504.3,727.1 513.1,727.0 521.9,728.9 530.7,732.1 539.5,737.5 548.3,743.5 557.1,748.4 565.9,751.5 574.8,753.7 583.6,754.9 592.4,755.5 601.2,755.7 610.0,755.8 618.8,755.8 627.6,755.8 636.4,755.8 645.2,755.8 654.0,755.8 662.8,755.8 671.6,755.8 680.5,755.8 681.0,755.8" fill="none" stroke="#0a4fa6" stroke-width="3.0" stroke-linejoin="round"/>
<path d="M78.0,604.6 86.2,604.6 95.0,604.6 103.8,604.6 112.6,604.6 121.5,604.7 130.3,604.8 139.1,605.1 147.9,605.3 156.7,605.6 165.5,605.7 174.3,605.7 183.1,605.6 191.9,605.5 200.7,605.3 209.5,605.1 218.3,605.0 227.1,604.8 236.0,604.8 244.8,604.7 253.6,604.7 262.4,604.7 271.2,604.6 280.0,604.6 288.8,604.6 297.6,604.6 306.4,604.6 315.2,604.6 324.0,604.6 332.8,604.6 341.7,604.6 342.2,604.6" fill="none" stroke="#22278e" stroke-width="3.0" stroke-linejoin="round"/>
<path d="M78.0,753.9 86.2,753.8 95.0,753.6 103.8,753.4 112.6,752.9 121.5,752.1 130.3,748.8 139.1,742.9 147.9,737.1 156.7,731.1 165.5,727.6 174.3,728.0 183.1,730.7 191.9,733.5 200.7,737.5 209.5,741.6 218.3,745.3 227.1,748.2 236.0,749.9 244.8,751.3 253.6,752.0 262.4,752.5 271.2,753.2 280.0,753.7 288.8,753.9 297.6,754.0 306.4,754.1 315.2,754.2 324.0,754.3 332.8,754.4 341.7,754.4 342.2,754.4" fill="none" stroke="#22278e" stroke-width="3.0" stroke-linejoin="round"/>
<path d="M416.8,604.5 425.0,604.5 433.8,604.5 442.6,604.5 451.4,604.5 460.3,604.5 469.1,604.6 477.9,604.7 486.7,604.9 495.5,605.0 504.3,605.0 513.1,605.0 521.9,605.0 530.7,604.9 539.5,604.8 548.3,604.7 557.1,604.6 565.9,604.6 574.8,604.6 583.6,604.5 592.4,604.5 601.2,604.5 610.0,604.5 618.8,604.5 627.6,604.5 636.4,604.5 645.2,604.5 654.0,604.5 662.8,604.5 671.6,604.5 680.5,604.5 681.0,604.5" fill="none" stroke="#22278e" stroke-width="3.0" stroke-linejoin="round"/>
<path d="M416.8,755.8 425.0,755.8 433.8,755.8 442.6,755.8 451.4,755.6 460.3,754.8 469.1,751.8 477.9,744.3 486.7,734.9 495.5,728.3 504.3,724.9 513.1,724.9 521.9,727.0 530.7,730.4 539.5,736.1 548.3,742.5 557.1,747.8 565.9,751.2 574.8,753.5 583.6,754.8 592.4,755.4 601.2,755.7 610.0,755.8 618.8,755.8 627.6,755.8 636.4,755.8 645.2,755.8 654.0,755.8 662.8,755.8 671.6,755.8 680.5,755.8 681.0,755.8" fill="none" stroke="#22278e" stroke-width="3.0" stroke-linejoin="round"/>
<path d="M78.0,605.5 86.2,605.5 95.0,605.6 103.8,605.7 112.6,605.9 121.5,606.3 130.3,607.8 139.1,610.4 147.9,613.0 156.7,615.6 165.5,617.2 174.3,617.0 183.1,615.9 191.9,614.6 200.7,612.8 209.5,611.0 218.3,609.4 227.1,608.0 236.0,607.3 244.8,606.7 253.6,606.3 262.4,606.1 271.2,605.8 280.0,605.6 288.8,605.5 297.6,605.5 306.4,605.4 315.2,605.4 324.0,605.3 332.8,605.3 341.7,605.3 342.2,605.3" fill="none" stroke="#5d208c" stroke-width="3.0" stroke-linejoin="round"/>
<path d="M78.0,754.1 86.2,754.0 95.0,753.8 103.8,753.6 112.6,753.1 121.5,752.4 130.3,749.2 139.1,743.6 147.9,738.0 156.7,732.4 165.5,729.0 174.3,729.4 183.1,731.9 191.9,734.6 200.7,738.4 209.5,742.3 218.3,745.8 227.1,748.6 236.0,750.2 244.8,751.5 253.6,752.3 262.4,752.7 271.2,753.4 280.0,753.8 288.8,754.0 297.6,754.2 306.4,754.3 315.2,754.3 324.0,754.4 332.8,754.5 341.7,754.6 342.2,754.6" fill="none" stroke="#5d208c" stroke-width="3.0" stroke-linejoin="round"/>
<path d="M416.8,604.8 425.0,604.8 433.8,604.8 442.6,604.8 451.4,604.9 460.3,605.2 469.1,606.5 477.9,609.6 486.7,613.5 495.5,616.3 504.3,617.7 513.1,617.7 521.9,616.8 530.7,615.4 539.5,613.0 548.3,610.3 557.1,608.1 565.9,606.7 574.8,605.7 583.6,605.2 592.4,605.0 601.2,604.9 610.0,604.8 618.8,604.8 627.6,604.8 636.4,604.8 645.2,604.8 654.0,604.8 662.8,604.8 671.6,604.8 680.5,604.8 681.0,604.8" fill="none" stroke="#5d208c" stroke-width="3.0" stroke-linejoin="round"/>
<path d="M416.8,755.8 425.0,755.8 433.8,755.8 442.6,755.8 451.4,755.6 460.3,754.9 469.1,752.0 477.9,745.0 486.7,736.1 495.5,729.8 504.3,726.6 513.1,726.6 521.9,728.5 530.7,731.7 539.5,737.2 548.3,743.3 557.1,748.3 565.9,751.5 574.8,753.7 583.6,754.9 592.4,755.4 601.2,755.7 610.0,755.8 618.8,755.8 627.6,755.8 636.4,755.8 645.2,755.8 654.0,755.8 662.8,755.8 671.6,755.8 680.5,755.8 681.0,755.8" fill="none" stroke="#5d208c" stroke-width="3.0" stroke-linejoin="round"/>
<path d="M78.0,606.2 86.2,606.3 95.0,606.4 103.8,606.6 112.6,606.9 121.5,607.5 130.3,610.0 139.1,614.5 147.9,618.8 156.7,623.3 165.5,625.9 174.3,625.6 183.1,623.6 191.9,621.5 200.7,618.5 209.5,615.4 218.3,612.7 227.1,610.5 236.0,609.2 244.8,608.2 253.6,607.6 262.4,607.3 271.2,606.7 280.0,606.4 288.8,606.3 297.6,606.2 306.4,606.1 315.2,606.0 324.0,605.9 332.8,605.9 341.7,605.8 342.2,605.8" fill="none" stroke="#b00784" stroke-width="3.0" stroke-linejoin="round"/>
<path d="M78.0,754.5 86.2,754.5 95.0,754.3 103.8,754.1 112.6,753.8 121.5,753.2 130.3,750.8 139.1,746.5 147.9,742.3 156.7,738.0 165.5,735.4 174.3,735.7 183.1,737.6 191.9,739.7 200.7,742.6 209.5,745.6 218.3,748.2 227.1,750.4 236.0,751.6 244.8,752.6 253.6,753.2 262.4,753.5 271.2,754.0 280.0,754.4 288.8,754.5 297.6,754.6 306.4,754.7 315.2,754.7 324.0,754.8 332.8,754.9 341.7,754.9 342.2,754.9" fill="none" stroke="#b00784" stroke-width="3.0" stroke-linejoin="round"/>
<path d="M416.8,605.1 425.0,605.1 433.8,605.1 442.6,605.1 451.4,605.2 460.3,605.7 469.1,608.0 477.9,613.4 486.7,620.3 495.5,625.1 504.3,627.6 513.1,627.6 521.9,626.1 530.7,623.6 539.5,619.4 548.3,614.7 557.1,610.9 565.9,608.4 574.8,606.7 583.6,605.8 592.4,605.3 601.2,605.1 610.0,605.1 618.8,605.1 627.6,605.1 636.4,605.1 645.2,605.1 654.0,605.1 662.8,605.1 671.6,605.1 680.5,605.1 681.0,605.1" fill="none" stroke="#b00784" stroke-width="3.0" stroke-linejoin="round"/>
<path d="M416.8,755.9 425.0,755.9 433.8,755.9 442.6,755.9 451.4,755.8 460.3,755.2 469.1,753.0 477.9,747.6 486.7,740.7 495.5,735.9 504.3,733.5 513.1,733.5 521.9,735.0 530.7,737.4 539.5,741.6 548.3,746.3 557.1,750.1 565.9,752.6 574.8,754.3 583.6,755.2 592.4,755.6 601.2,755.8 610.0,755.9 618.8,755.9 627.6,755.9 636.4,755.9 645.2,755.9 654.0,755.9 662.8,755.9 671.6,755.9 680.5,755.9 681.0,755.9" fill="none" stroke="#b00784" stroke-width="3.0" stroke-linejoin="round"/>
<path d="M78.0,606.7 86.2,606.8 95.0,607.0 103.8,607.2 112.6,607.7 121.5,608.4 130.3,611.7 139.1,617.6 147.9,623.3 156.7,629.1 165.5,632.6 174.3,632.2 183.1,629.6 191.9,626.8 200.7,622.8 209.5,618.8 218.3,615.2 227.1,612.3 236.0,610.7 244.8,609.3 253.6,608.6 262.4,608.1 271.2,607.4 280.0,606.9 288.8,606.8 297.6,606.6 306.4,606.5 315.2,606.4 324.0,606.3 332.8,606.2 341.7,606.2 342.2,606.2" fill="none" stroke="#e5007d" stroke-width="3.0" stroke-linejoin="round"/>
<path d="M78.0,755.3 86.2,755.3 95.0,755.2 103.8,755.1 112.6,754.9 121.5,754.6 130.3,753.3 139.1,750.9 147.9,748.6 156.7,746.2 165.5,744.8 174.3,745.0 183.1,746.0 191.9,747.2 200.7,748.8 209.5,750.4 218.3,751.9 227.1,753.0 236.0,753.7 244.8,754.2 253.6,754.6 262.4,754.7 271.2,755.0 280.0,755.2 288.8,755.3 297.6,755.3 306.4,755.4 315.2,755.4 324.0,755.5 332.8,755.5 341.7,755.5 342.2,755.5" fill="none" stroke="#e5007d" stroke-width="3.0" stroke-linejoin="round"/>
<path d="M416.8,605.2 425.0,605.2 433.8,605.2 442.6,605.2 451.4,605.4 460.3,606.1 469.1,609.0 477.9,616.0 486.7,624.9 495.5,631.2 504.3,634.3 513.1,634.4 521.9,632.4 530.7,629.2 539.5,623.8 548.3,617.7 557.1,612.8 565.9,609.6 574.8,607.3 583.6,606.1 592.4,605.6 601.2,605.3 610.0,605.2 618.8,605.2 627.6,605.2 636.4,605.2 645.2,605.2 654.0,605.2 662.8,605.2 671.6,605.2 680.5,605.2 681.0,605.2" fill="none" stroke="#e5007d" stroke-width="3.0" stroke-linejoin="round"/>
<path d="M416.8,756.0 425.0,756.0 433.8,756.0 442.6,756.0 451.4,756.0 460.3,755.7 469.1,754.4 477.9,751.4 486.7,747.6 495.5,744.9 504.3,743.5 513.1,743.5 521.9,744.3 530.7,745.7 539.5,748.1 548.3,750.7 557.1,752.8 565.9,754.2 574.8,755.1 583.6,755.6 592.4,755.9 601.2,756.0 610.0,756.0 618.8,756.0 627.6,756.0 636.4,756.0 645.2,756.0 654.0,756.0 662.8,756.0 671.6,756.0 680.5,756.0 681.0,756.0" fill="none" stroke="#e5007d" stroke-width="3.0" stroke-linejoin="round"/>
<path d="M78.0,606.9 86.2,607.0 95.0,607.2 103.8,607.4 112.6,607.9 121.5,608.7 130.3,612.2 139.1,618.4 147.9,624.5 156.7,630.7 165.5,634.5 174.3,634.0 183.1,631.2 191.9,628.3 200.7,624.1 209.5,619.8 218.3,615.9 227.1,612.9 236.0,611.1 244.8,609.7 253.6,608.8 262.4,608.4 271.2,607.6 280.0,607.1 288.8,606.9 297.6,606.8 306.4,606.7 315.2,606.6 324.0,606.5 332.8,606.4 341.7,606.3 342.2,606.3" fill="none" stroke="#e6004c" stroke-width="3.0" stroke-linejoin="round"/>
<path d="M78.0,756.2 86.2,756.2 95.0,756.2 103.8,756.2 112.6,756.2 121.5,756.2 130.3,756.3 139.1,756.3 147.9,756.4 156.7,756.5 165.5,756.5 174.3,756.5 183.1,756.5 191.9,756.4 200.7,756.4 209.5,756.4 218.3,756.3 227.1,756.3 236.0,756.3 244.8,756.3 253.6,756.2 262.4,756.2 271.2,756.2 280.0,756.2 288.8,756.2 297.6,756.2 306.4,756.2 315.2,756.2 324.0,756.2 332.8,756.2 341.7,756.2 342.2,756.2" fill="none" stroke="#e6004c" stroke-width="3.0" stroke-linejoin="round"/>
<path d="M416.8,605.3 425.0,605.3 433.8,605.3 442.6,605.3 451.4,605.5 460.3,606.2 469.1,609.4 477.9,617.0 486.7,626.6 495.5,633.4 504.3,636.8 513.1,636.8 521.9,634.7 530.7,631.2 539.5,625.3 548.3,618.8 557.1,613.4 565.9,610.0 574.8,607.6 583.6,606.3 592.4,605.7 601.2,605.4 610.0,605.3 618.8,605.3 627.6,605.3 636.4,605.3 645.2,605.3 654.0,605.3 662.8,605.3 671.6,605.3 680.5,605.3 681.0,605.3" fill="none" stroke="#e6004c" stroke-width="3.0" stroke-linejoin="round"/>
<path d="M416.8,756.2 425.0,756.2 433.8,756.2 442.6,756.2 451.4,756.2 460.3,756.2 469.1,756.2 477.9,756.1 486.7,756.0 495.5,755.9 504.3,755.9 513.1,755.9 521.9,755.9 530.7,755.9 539.5,756.0 548.3,756.1 557.1,756.1 565.9,756.1 574.8,756.2 583.6,756.2 592.4,756.2 601.2,756.2 610.0,756.2 618.8,756.2 627.6,756.2 636.4,756.2 645.2,756.2 654.0,756.2 662.8,756.2 671.6,756.2 680.5,756.2 681.0,756.2" fill="none" stroke="#e6004c" stroke-width="3.0" stroke-linejoin="round"/>
<text transform="translate(29.40,452.00) rotate(-90)" text-anchor="middle" stroke="#000" stroke-width="0.25"><tspan font-size="17.6">Speed (cm s</tspan><tspan font-size="13" dy="-6.8">−1</tspan><tspan font-size="17.6" dy="6.8">)</tspan></text>
<text transform="translate(16.00,604.20) rotate(-90)" text-anchor="middle" stroke="#000" stroke-width="0.25"><tspan font-size="18" font-style="italic">V</tspan><tspan font-size="12.5" font-style="italic" dy="4">x</tspan><tspan font-size="17.4" dx="-0.5" dy="-4"> (cm s</tspan><tspan font-size="13" dy="-6.8">−1</tspan><tspan font-size="17.4" dy="6.8">)</tspan></text>
<text transform="translate(16.00,754.50) rotate(-90)" text-anchor="middle" stroke="#000" stroke-width="0.25"><tspan font-size="18" font-style="italic">V</tspan><tspan font-size="12.5" font-style="italic" dy="4">y</tspan><tspan font-size="17.4" dx="-0.5" dy="-4"> (cm s</tspan><tspan font-size="13" dy="-6.8">−1</tspan><tspan font-size="17.4" dy="6.8">)</tspan></text>
</svg>
</body></html>
